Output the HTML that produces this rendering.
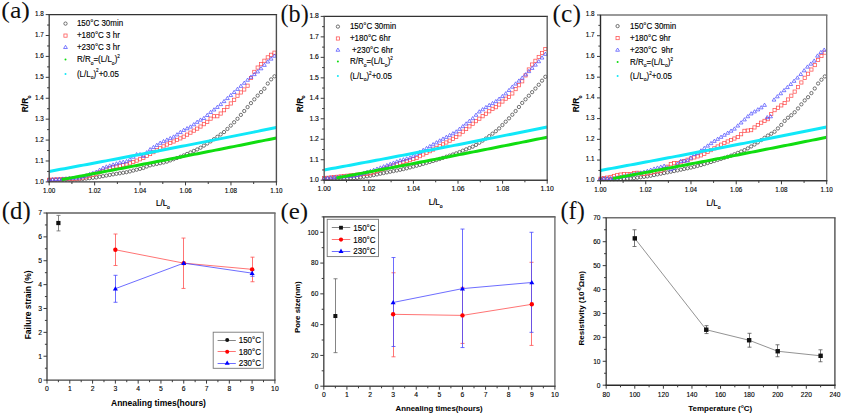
<!DOCTYPE html>
<html><head><meta charset="utf-8"><style>html,body{margin:0;padding:0;background:#fff;width:843px;height:415px;overflow:hidden}svg{display:block}</style></head>
<body><svg width="843" height="415" viewBox="0 0 843 415"><g><circle cx="49.2" cy="179.81" r="1.65" fill="none" stroke="#444444" stroke-width="0.75"/><circle cx="52.56" cy="179.81" r="1.65" fill="none" stroke="#444444" stroke-width="0.75"/><circle cx="55.93" cy="179.81" r="1.65" fill="none" stroke="#444444" stroke-width="0.75"/><circle cx="59.29" cy="179.81" r="1.65" fill="none" stroke="#444444" stroke-width="0.75"/><circle cx="62.65" cy="179.81" r="1.65" fill="none" stroke="#444444" stroke-width="0.75"/><circle cx="66.01" cy="179.75" r="1.65" fill="none" stroke="#444444" stroke-width="0.75"/><circle cx="69.38" cy="179.62" r="1.65" fill="none" stroke="#444444" stroke-width="0.75"/><circle cx="72.74" cy="179.49" r="1.65" fill="none" stroke="#444444" stroke-width="0.75"/><circle cx="76.1" cy="179.35" r="1.65" fill="none" stroke="#444444" stroke-width="0.75"/><circle cx="79.46" cy="179.22" r="1.65" fill="none" stroke="#444444" stroke-width="0.75"/><circle cx="82.83" cy="178.91" r="1.65" fill="none" stroke="#444444" stroke-width="0.75"/><circle cx="86.19" cy="178.56" r="1.65" fill="none" stroke="#444444" stroke-width="0.75"/><circle cx="89.55" cy="178.2" r="1.65" fill="none" stroke="#444444" stroke-width="0.75"/><circle cx="92.91" cy="177.84" r="1.65" fill="none" stroke="#444444" stroke-width="0.75"/><circle cx="96.28" cy="177.46" r="1.65" fill="none" stroke="#444444" stroke-width="0.75"/><circle cx="99.64" cy="176.83" r="1.65" fill="none" stroke="#444444" stroke-width="0.75"/><circle cx="103" cy="176.2" r="1.65" fill="none" stroke="#444444" stroke-width="0.75"/><circle cx="106.36" cy="175.57" r="1.65" fill="none" stroke="#444444" stroke-width="0.75"/><circle cx="109.73" cy="174.95" r="1.65" fill="none" stroke="#444444" stroke-width="0.75"/><circle cx="113.09" cy="174.36" r="1.65" fill="none" stroke="#444444" stroke-width="0.75"/><circle cx="116.45" cy="173.82" r="1.65" fill="none" stroke="#444444" stroke-width="0.75"/><circle cx="119.81" cy="173.28" r="1.65" fill="none" stroke="#444444" stroke-width="0.75"/><circle cx="123.18" cy="172.74" r="1.65" fill="none" stroke="#444444" stroke-width="0.75"/><circle cx="126.54" cy="172.2" r="1.65" fill="none" stroke="#444444" stroke-width="0.75"/><circle cx="129.9" cy="171.43" r="1.65" fill="none" stroke="#444444" stroke-width="0.75"/><circle cx="133.26" cy="170.57" r="1.65" fill="none" stroke="#444444" stroke-width="0.75"/><circle cx="136.63" cy="169.72" r="1.65" fill="none" stroke="#444444" stroke-width="0.75"/><circle cx="139.99" cy="168.87" r="1.65" fill="none" stroke="#444444" stroke-width="0.75"/><circle cx="143.35" cy="167.96" r="1.65" fill="none" stroke="#444444" stroke-width="0.75"/><circle cx="146.71" cy="166.53" r="1.65" fill="none" stroke="#444444" stroke-width="0.75"/><circle cx="150.08" cy="165.35" r="1.65" fill="none" stroke="#444444" stroke-width="0.75"/><circle cx="153.44" cy="164.64" r="1.65" fill="none" stroke="#444444" stroke-width="0.75"/><circle cx="156.8" cy="163.93" r="1.65" fill="none" stroke="#444444" stroke-width="0.75"/><circle cx="160.16" cy="163.21" r="1.65" fill="none" stroke="#444444" stroke-width="0.75"/><circle cx="163.53" cy="162.5" r="1.65" fill="none" stroke="#444444" stroke-width="0.75"/><circle cx="166.89" cy="161.62" r="1.65" fill="none" stroke="#444444" stroke-width="0.75"/><circle cx="170.25" cy="160.41" r="1.65" fill="none" stroke="#444444" stroke-width="0.75"/><circle cx="173.61" cy="159.2" r="1.65" fill="none" stroke="#444444" stroke-width="0.75"/><circle cx="176.98" cy="157.98" r="1.65" fill="none" stroke="#444444" stroke-width="0.75"/><circle cx="180.34" cy="156.77" r="1.65" fill="none" stroke="#444444" stroke-width="0.75"/><circle cx="183.7" cy="155.46" r="1.65" fill="none" stroke="#444444" stroke-width="0.75"/><circle cx="187.06" cy="153.95" r="1.65" fill="none" stroke="#444444" stroke-width="0.75"/><circle cx="190.43" cy="152.45" r="1.65" fill="none" stroke="#444444" stroke-width="0.75"/><circle cx="193.79" cy="150.94" r="1.65" fill="none" stroke="#444444" stroke-width="0.75"/><circle cx="197.15" cy="149.44" r="1.65" fill="none" stroke="#444444" stroke-width="0.75"/><circle cx="200.52" cy="147.73" r="1.65" fill="none" stroke="#444444" stroke-width="0.75"/><circle cx="203.88" cy="145.61" r="1.65" fill="none" stroke="#444444" stroke-width="0.75"/><circle cx="207.24" cy="143.5" r="1.65" fill="none" stroke="#444444" stroke-width="0.75"/><circle cx="210.6" cy="141.38" r="1.65" fill="none" stroke="#444444" stroke-width="0.75"/><circle cx="213.97" cy="139.19" r="1.65" fill="none" stroke="#444444" stroke-width="0.75"/><circle cx="217.33" cy="136.81" r="1.65" fill="none" stroke="#444444" stroke-width="0.75"/><circle cx="220.69" cy="134.43" r="1.65" fill="none" stroke="#444444" stroke-width="0.75"/><circle cx="224.05" cy="132.05" r="1.65" fill="none" stroke="#444444" stroke-width="0.75"/><circle cx="227.42" cy="128.93" r="1.65" fill="none" stroke="#444444" stroke-width="0.75"/><circle cx="230.78" cy="125.6" r="1.65" fill="none" stroke="#444444" stroke-width="0.75"/><circle cx="234.14" cy="122.27" r="1.65" fill="none" stroke="#444444" stroke-width="0.75"/><circle cx="237.5" cy="118.79" r="1.65" fill="none" stroke="#444444" stroke-width="0.75"/><circle cx="240.87" cy="114.9" r="1.65" fill="none" stroke="#444444" stroke-width="0.75"/><circle cx="244.23" cy="111.01" r="1.65" fill="none" stroke="#444444" stroke-width="0.75"/><circle cx="247.59" cy="107.09" r="1.65" fill="none" stroke="#444444" stroke-width="0.75"/><circle cx="250.95" cy="103.14" r="1.65" fill="none" stroke="#444444" stroke-width="0.75"/><circle cx="254.32" cy="99.35" r="1.65" fill="none" stroke="#444444" stroke-width="0.75"/><circle cx="257.68" cy="95.63" r="1.65" fill="none" stroke="#444444" stroke-width="0.75"/><circle cx="261.04" cy="92.11" r="1.65" fill="none" stroke="#444444" stroke-width="0.75"/><circle cx="264.4" cy="88.69" r="1.65" fill="none" stroke="#444444" stroke-width="0.75"/><circle cx="267.77" cy="83.54" r="1.65" fill="none" stroke="#444444" stroke-width="0.75"/><circle cx="271.13" cy="79.38" r="1.65" fill="none" stroke="#444444" stroke-width="0.75"/><circle cx="274.49" cy="76.3" r="1.65" fill="none" stroke="#444444" stroke-width="0.75"/><rect x="47.6" y="178.21" width="3.2" height="3.2" fill="none" stroke="#ff5050" stroke-width="0.75"/><rect x="50.96" y="178.05" width="3.2" height="3.2" fill="none" stroke="#ff5050" stroke-width="0.75"/><rect x="54.33" y="177.89" width="3.2" height="3.2" fill="none" stroke="#ff5050" stroke-width="0.75"/><rect x="57.69" y="177.73" width="3.2" height="3.2" fill="none" stroke="#ff5050" stroke-width="0.75"/><rect x="61.05" y="177.58" width="3.2" height="3.2" fill="none" stroke="#ff5050" stroke-width="0.75"/><rect x="64.41" y="177.42" width="3.2" height="3.2" fill="none" stroke="#ff5050" stroke-width="0.75"/><rect x="67.78" y="177.26" width="3.2" height="3.2" fill="none" stroke="#ff5050" stroke-width="0.75"/><rect x="71.14" y="177.1" width="3.2" height="3.2" fill="none" stroke="#ff5050" stroke-width="0.75"/><rect x="74.5" y="176.94" width="3.2" height="3.2" fill="none" stroke="#ff5050" stroke-width="0.75"/><rect x="77.86" y="176.79" width="3.2" height="3.2" fill="none" stroke="#ff5050" stroke-width="0.75"/><rect x="81.23" y="176.01" width="3.2" height="3.2" fill="none" stroke="#ff5050" stroke-width="0.75"/><rect x="84.59" y="175.02" width="3.2" height="3.2" fill="none" stroke="#ff5050" stroke-width="0.75"/><rect x="87.95" y="174.04" width="3.2" height="3.2" fill="none" stroke="#ff5050" stroke-width="0.75"/><rect x="91.31" y="173.05" width="3.2" height="3.2" fill="none" stroke="#ff5050" stroke-width="0.75"/><rect x="94.68" y="172.04" width="3.2" height="3.2" fill="none" stroke="#ff5050" stroke-width="0.75"/><rect x="98.04" y="170.69" width="3.2" height="3.2" fill="none" stroke="#ff5050" stroke-width="0.75"/><rect x="101.4" y="169.34" width="3.2" height="3.2" fill="none" stroke="#ff5050" stroke-width="0.75"/><rect x="104.76" y="168" width="3.2" height="3.2" fill="none" stroke="#ff5050" stroke-width="0.75"/><rect x="108.13" y="166.65" width="3.2" height="3.2" fill="none" stroke="#ff5050" stroke-width="0.75"/><rect x="111.49" y="165.59" width="3.2" height="3.2" fill="none" stroke="#ff5050" stroke-width="0.75"/><rect x="114.85" y="164.92" width="3.2" height="3.2" fill="none" stroke="#ff5050" stroke-width="0.75"/><rect x="118.21" y="164.24" width="3.2" height="3.2" fill="none" stroke="#ff5050" stroke-width="0.75"/><rect x="121.58" y="163.57" width="3.2" height="3.2" fill="none" stroke="#ff5050" stroke-width="0.75"/><rect x="124.94" y="162.9" width="3.2" height="3.2" fill="none" stroke="#ff5050" stroke-width="0.75"/><rect x="128.3" y="161.72" width="3.2" height="3.2" fill="none" stroke="#ff5050" stroke-width="0.75"/><rect x="131.66" y="160.37" width="3.2" height="3.2" fill="none" stroke="#ff5050" stroke-width="0.75"/><rect x="135.03" y="159.02" width="3.2" height="3.2" fill="none" stroke="#ff5050" stroke-width="0.75"/><rect x="138.39" y="157.68" width="3.2" height="3.2" fill="none" stroke="#ff5050" stroke-width="0.75"/><rect x="141.75" y="156.28" width="3.2" height="3.2" fill="none" stroke="#ff5050" stroke-width="0.75"/><rect x="145.11" y="154.37" width="3.2" height="3.2" fill="none" stroke="#ff5050" stroke-width="0.75"/><rect x="148.48" y="152.46" width="3.2" height="3.2" fill="none" stroke="#ff5050" stroke-width="0.75"/><rect x="151.84" y="150.54" width="3.2" height="3.2" fill="none" stroke="#ff5050" stroke-width="0.75"/><rect x="155.2" y="148.62" width="3.2" height="3.2" fill="none" stroke="#ff5050" stroke-width="0.75"/><rect x="158.56" y="146.69" width="3.2" height="3.2" fill="none" stroke="#ff5050" stroke-width="0.75"/><rect x="161.93" y="144.77" width="3.2" height="3.2" fill="none" stroke="#ff5050" stroke-width="0.75"/><rect x="165.29" y="142.97" width="3.2" height="3.2" fill="none" stroke="#ff5050" stroke-width="0.75"/><rect x="168.65" y="141.42" width="3.2" height="3.2" fill="none" stroke="#ff5050" stroke-width="0.75"/><rect x="172.01" y="139.88" width="3.2" height="3.2" fill="none" stroke="#ff5050" stroke-width="0.75"/><rect x="175.38" y="138.33" width="3.2" height="3.2" fill="none" stroke="#ff5050" stroke-width="0.75"/><rect x="178.74" y="136.78" width="3.2" height="3.2" fill="none" stroke="#ff5050" stroke-width="0.75"/><rect x="182.1" y="135.08" width="3.2" height="3.2" fill="none" stroke="#ff5050" stroke-width="0.75"/><rect x="185.46" y="133.07" width="3.2" height="3.2" fill="none" stroke="#ff5050" stroke-width="0.75"/><rect x="188.83" y="131.06" width="3.2" height="3.2" fill="none" stroke="#ff5050" stroke-width="0.75"/><rect x="192.19" y="129.06" width="3.2" height="3.2" fill="none" stroke="#ff5050" stroke-width="0.75"/><rect x="195.55" y="127.05" width="3.2" height="3.2" fill="none" stroke="#ff5050" stroke-width="0.75"/><rect x="198.92" y="124.93" width="3.2" height="3.2" fill="none" stroke="#ff5050" stroke-width="0.75"/><rect x="202.28" y="122.58" width="3.2" height="3.2" fill="none" stroke="#ff5050" stroke-width="0.75"/><rect x="205.64" y="120.24" width="3.2" height="3.2" fill="none" stroke="#ff5050" stroke-width="0.75"/><rect x="209" y="117.04" width="3.2" height="3.2" fill="none" stroke="#ff5050" stroke-width="0.75"/><rect x="212.37" y="114.63" width="3.2" height="3.2" fill="none" stroke="#ff5050" stroke-width="0.75"/><rect x="215.73" y="114.63" width="3.2" height="3.2" fill="none" stroke="#ff5050" stroke-width="0.75"/><rect x="219.09" y="111.94" width="3.2" height="3.2" fill="none" stroke="#ff5050" stroke-width="0.75"/><rect x="222.45" y="108.61" width="3.2" height="3.2" fill="none" stroke="#ff5050" stroke-width="0.75"/><rect x="225.82" y="105.38" width="3.2" height="3.2" fill="none" stroke="#ff5050" stroke-width="0.75"/><rect x="229.18" y="101.86" width="3.2" height="3.2" fill="none" stroke="#ff5050" stroke-width="0.75"/><rect x="232.54" y="98.19" width="3.2" height="3.2" fill="none" stroke="#ff5050" stroke-width="0.75"/><rect x="235.9" y="94.11" width="3.2" height="3.2" fill="none" stroke="#ff5050" stroke-width="0.75"/><rect x="239.27" y="90.85" width="3.2" height="3.2" fill="none" stroke="#ff5050" stroke-width="0.75"/><rect x="242.63" y="87.88" width="3.2" height="3.2" fill="none" stroke="#ff5050" stroke-width="0.75"/><rect x="245.99" y="84.08" width="3.2" height="3.2" fill="none" stroke="#ff5050" stroke-width="0.75"/><rect x="249.35" y="76.43" width="3.2" height="3.2" fill="none" stroke="#ff5050" stroke-width="0.75"/><rect x="252.72" y="70.29" width="3.2" height="3.2" fill="none" stroke="#ff5050" stroke-width="0.75"/><rect x="256.08" y="65.96" width="3.2" height="3.2" fill="none" stroke="#ff5050" stroke-width="0.75"/><rect x="259.44" y="62.54" width="3.2" height="3.2" fill="none" stroke="#ff5050" stroke-width="0.75"/><rect x="262.8" y="59.13" width="3.2" height="3.2" fill="none" stroke="#ff5050" stroke-width="0.75"/><rect x="266.17" y="55.76" width="3.2" height="3.2" fill="none" stroke="#ff5050" stroke-width="0.75"/><rect x="269.53" y="53.19" width="3.2" height="3.2" fill="none" stroke="#ff5050" stroke-width="0.75"/><rect x="272.89" y="51.1" width="3.2" height="3.2" fill="none" stroke="#ff5050" stroke-width="0.75"/><path d="M49.2 177.91L51.1 181.14L47.3 181.14Z" fill="none" stroke="#5050ff" stroke-width="0.75"/><path d="M52.56 177.66L54.46 180.89L50.66 180.89Z" fill="none" stroke="#5050ff" stroke-width="0.75"/><path d="M55.93 177.41L57.83 180.64L54.03 180.64Z" fill="none" stroke="#5050ff" stroke-width="0.75"/><path d="M59.29 177.16L61.19 180.39L57.39 180.39Z" fill="none" stroke="#5050ff" stroke-width="0.75"/><path d="M62.65 176.91L64.55 180.14L60.75 180.14Z" fill="none" stroke="#5050ff" stroke-width="0.75"/><path d="M66.01 176.67L67.91 179.9L64.11 179.9Z" fill="none" stroke="#5050ff" stroke-width="0.75"/><path d="M69.38 176.42L71.28 179.65L67.48 179.65Z" fill="none" stroke="#5050ff" stroke-width="0.75"/><path d="M72.74 176.17L74.64 179.4L70.84 179.4Z" fill="none" stroke="#5050ff" stroke-width="0.75"/><path d="M76.1 175.92L78 179.15L74.2 179.15Z" fill="none" stroke="#5050ff" stroke-width="0.75"/><path d="M79.46 175.67L81.36 178.9L77.56 178.9Z" fill="none" stroke="#5050ff" stroke-width="0.75"/><path d="M82.83 174.74L84.73 177.97L80.93 177.97Z" fill="none" stroke="#5050ff" stroke-width="0.75"/><path d="M86.19 173.58L88.09 176.81L84.29 176.81Z" fill="none" stroke="#5050ff" stroke-width="0.75"/><path d="M89.55 172.41L91.45 175.64L87.65 175.64Z" fill="none" stroke="#5050ff" stroke-width="0.75"/><path d="M92.91 171.24L94.81 174.47L91.01 174.47Z" fill="none" stroke="#5050ff" stroke-width="0.75"/><path d="M96.28 170.01L98.18 173.24L94.38 173.24Z" fill="none" stroke="#5050ff" stroke-width="0.75"/><path d="M99.64 168.01L101.54 171.24L97.74 171.24Z" fill="none" stroke="#5050ff" stroke-width="0.75"/><path d="M103 166L104.9 169.23L101.1 169.23Z" fill="none" stroke="#5050ff" stroke-width="0.75"/><path d="M106.36 164.81L108.26 168.04L104.46 168.04Z" fill="none" stroke="#5050ff" stroke-width="0.75"/><path d="M109.73 163.84L111.63 167.07L107.83 167.07Z" fill="none" stroke="#5050ff" stroke-width="0.75"/><path d="M113.09 162.81L114.99 166.04L111.19 166.04Z" fill="none" stroke="#5050ff" stroke-width="0.75"/><path d="M116.45 161.72L118.35 164.95L114.55 164.95Z" fill="none" stroke="#5050ff" stroke-width="0.75"/><path d="M119.81 160.69L121.71 163.92L117.91 163.92Z" fill="none" stroke="#5050ff" stroke-width="0.75"/><path d="M123.18 160.07L125.08 163.3L121.28 163.3Z" fill="none" stroke="#5050ff" stroke-width="0.75"/><path d="M126.54 159.45L128.44 162.68L124.64 162.68Z" fill="none" stroke="#5050ff" stroke-width="0.75"/><path d="M129.9 157.44L131.8 160.67L128 160.67Z" fill="none" stroke="#5050ff" stroke-width="0.75"/><path d="M133.26 154.99L135.16 158.22L131.36 158.22Z" fill="none" stroke="#5050ff" stroke-width="0.75"/><path d="M136.63 152.54L138.53 155.77L134.73 155.77Z" fill="none" stroke="#5050ff" stroke-width="0.75"/><path d="M139.99 152.49L141.89 155.72L138.09 155.72Z" fill="none" stroke="#5050ff" stroke-width="0.75"/><path d="M143.35 154.15L145.25 157.38L141.45 157.38Z" fill="none" stroke="#5050ff" stroke-width="0.75"/><path d="M146.71 150.58L148.61 153.81L144.81 153.81Z" fill="none" stroke="#5050ff" stroke-width="0.75"/><path d="M150.08 147.49L151.98 150.72L148.18 150.72Z" fill="none" stroke="#5050ff" stroke-width="0.75"/><path d="M153.44 145.35L155.34 148.58L151.54 148.58Z" fill="none" stroke="#5050ff" stroke-width="0.75"/><path d="M156.8 143.2L158.7 146.43L154.9 146.43Z" fill="none" stroke="#5050ff" stroke-width="0.75"/><path d="M160.16 141.06L162.06 144.29L158.26 144.29Z" fill="none" stroke="#5050ff" stroke-width="0.75"/><path d="M163.53 139.43L165.43 142.66L161.63 142.66Z" fill="none" stroke="#5050ff" stroke-width="0.75"/><path d="M166.89 137.91L168.79 141.14L164.99 141.14Z" fill="none" stroke="#5050ff" stroke-width="0.75"/><path d="M170.25 136.39L172.15 139.62L168.35 139.62Z" fill="none" stroke="#5050ff" stroke-width="0.75"/><path d="M173.61 134.87L175.51 138.1L171.71 138.1Z" fill="none" stroke="#5050ff" stroke-width="0.75"/><path d="M176.98 132.66L178.88 135.89L175.08 135.89Z" fill="none" stroke="#5050ff" stroke-width="0.75"/><path d="M180.34 130.32L182.24 133.55L178.44 133.55Z" fill="none" stroke="#5050ff" stroke-width="0.75"/><path d="M183.7 128.2L185.6 131.43L181.8 131.43Z" fill="none" stroke="#5050ff" stroke-width="0.75"/><path d="M187.06 126.53L188.96 129.76L185.16 129.76Z" fill="none" stroke="#5050ff" stroke-width="0.75"/><path d="M190.43 124.85L192.33 128.08L188.53 128.08Z" fill="none" stroke="#5050ff" stroke-width="0.75"/><path d="M193.79 122.55L195.69 125.78L191.89 125.78Z" fill="none" stroke="#5050ff" stroke-width="0.75"/><path d="M197.15 120.12L199.05 123.35L195.25 123.35Z" fill="none" stroke="#5050ff" stroke-width="0.75"/><path d="M200.52 117.95L202.42 121.18L198.62 121.18Z" fill="none" stroke="#5050ff" stroke-width="0.75"/><path d="M203.88 116.26L205.78 119.49L201.98 119.49Z" fill="none" stroke="#5050ff" stroke-width="0.75"/><path d="M207.24 113.26L209.14 116.49L205.34 116.49Z" fill="none" stroke="#5050ff" stroke-width="0.75"/><path d="M210.6 110.25L212.5 113.48L208.7 113.48Z" fill="none" stroke="#5050ff" stroke-width="0.75"/><path d="M213.97 107.78L215.87 111.01L212.07 111.01Z" fill="none" stroke="#5050ff" stroke-width="0.75"/><path d="M217.33 105.21L219.23 108.44L215.43 108.44Z" fill="none" stroke="#5050ff" stroke-width="0.75"/><path d="M220.69 102.38L222.59 105.61L218.79 105.61Z" fill="none" stroke="#5050ff" stroke-width="0.75"/><path d="M224.05 99.4L225.95 102.63L222.15 102.63Z" fill="none" stroke="#5050ff" stroke-width="0.75"/><path d="M227.42 96.37L229.32 99.6L225.52 99.6Z" fill="none" stroke="#5050ff" stroke-width="0.75"/><path d="M230.78 93.33L232.68 96.56L228.88 96.56Z" fill="none" stroke="#5050ff" stroke-width="0.75"/><path d="M234.14 90.29L236.04 93.52L232.24 93.52Z" fill="none" stroke="#5050ff" stroke-width="0.75"/><path d="M237.5 87.19L239.4 90.42L235.6 90.42Z" fill="none" stroke="#5050ff" stroke-width="0.75"/><path d="M240.87 84.1L242.77 87.33L238.97 87.33Z" fill="none" stroke="#5050ff" stroke-width="0.75"/><path d="M244.23 81.05L246.13 84.28L242.33 84.28Z" fill="none" stroke="#5050ff" stroke-width="0.75"/><path d="M247.59 78.04L249.49 81.27L245.69 81.27Z" fill="none" stroke="#5050ff" stroke-width="0.75"/><path d="M250.95 75.08L252.85 78.31L249.05 78.31Z" fill="none" stroke="#5050ff" stroke-width="0.75"/><path d="M254.32 72.4L256.22 75.63L252.42 75.63Z" fill="none" stroke="#5050ff" stroke-width="0.75"/><path d="M257.68 69.72L259.58 72.95L255.78 72.95Z" fill="none" stroke="#5050ff" stroke-width="0.75"/><path d="M261.04 66.57L262.94 69.8L259.14 69.8Z" fill="none" stroke="#5050ff" stroke-width="0.75"/><path d="M264.4 63.14L266.3 66.37L262.5 66.37Z" fill="none" stroke="#5050ff" stroke-width="0.75"/><path d="M267.77 59.78L269.67 63.01L265.87 63.01Z" fill="none" stroke="#5050ff" stroke-width="0.75"/><path d="M271.13 56.89L273.03 60.12L269.23 60.12Z" fill="none" stroke="#5050ff" stroke-width="0.75"/><path d="M274.49 54.01L276.39 57.24L272.59 57.24Z" fill="none" stroke="#5050ff" stroke-width="0.75"/></g>
<polyline points="61.7,179.59 65.27,178.93 68.85,178.27 72.43,177.6 76.01,176.94 79.59,176.27 83.17,175.6 86.74,174.93 90.32,174.26 93.9,173.59 97.48,172.92 101.06,172.24 104.64,171.57 108.22,170.89 111.79,170.22 115.37,169.54 118.95,168.86 122.53,168.18 126.11,167.5 129.69,166.82 133.26,166.14 136.84,165.45 140.42,164.77 144,164.08 147.58,163.4 151.16,162.71 154.73,162.02 158.31,161.33 161.89,160.64 165.47,159.95 169.05,159.26 172.63,158.56 176.2,157.87 179.78,157.17 183.36,156.47 186.94,155.77 190.52,155.08 194.1,154.38 197.68,153.67 201.25,152.97 204.83,152.27 208.41,151.56 211.99,150.86 215.57,150.15 219.15,149.44 222.72,148.74 226.3,148.03 229.88,147.32 233.46,146.6 237.04,145.89 240.62,145.18 244.19,144.46 247.77,143.75 251.35,143.03 254.93,142.31 258.51,141.59 262.09,140.87 265.66,140.15 269.24,139.43 272.82,138.71 276.4,137.98" fill="none" stroke="#10dd10" stroke-width="3.0"/>
<polyline points="49.2,171.44 52.99,170.75 56.77,170.05 60.56,169.35 64.35,168.65 68.13,167.94 71.92,167.24 75.71,166.54 79.49,165.83 83.28,165.12 87.07,164.41 90.85,163.71 94.64,163 98.43,162.28 102.21,161.57 106,160.86 109.79,160.14 113.57,159.43 117.36,158.71 121.15,157.99 124.93,157.27 128.72,156.55 132.51,155.83 136.29,155.1 140.08,154.38 143.87,153.65 147.65,152.93 151.44,152.2 155.23,151.47 159.01,150.74 162.8,150.01 166.59,149.28 170.37,148.54 174.16,147.81 177.95,147.07 181.73,146.33 185.52,145.6 189.31,144.86 193.09,144.12 196.88,143.37 200.67,142.63 204.45,141.89 208.24,141.14 212.03,140.4 215.81,139.65 219.6,138.9 223.39,138.15 227.17,137.4 230.96,136.65 234.75,135.89 238.53,135.14 242.32,134.38 246.11,133.62 249.89,132.87 253.68,132.11 257.47,131.35 261.25,130.59 265.04,129.82 268.83,129.06 272.61,128.29 276.4,127.53" fill="none" stroke="#10e8f8" stroke-width="3"/>
<path d="M48.5 14.6H277.1" stroke="#333" stroke-width="1.4"/>
<path d="M276.4 14.6V181.9" stroke="#505050" stroke-width="1.4"/>
<path d="M49.2 14.6V182.6" stroke="#484848" stroke-width="1.4"/>
<path d="M48.5 181.9H277.1" stroke="#3a3a3a" stroke-width="1.4"/>
<path d="M49.2 181.9V185.4M94.64 181.9V185.4M140.08 181.9V185.4M185.52 181.9V185.4M230.96 181.9V185.4M276.4 181.9V185.4M71.92 181.9V184M117.36 181.9V184M162.8 181.9V184M208.24 181.9V184M253.68 181.9V184" stroke="#3a3a3a" stroke-width="1.0" fill="none"/>
<path d="M49.2 181.9H45.7M49.2 160.99H45.7M49.2 140.08H45.7M49.2 119.16H45.7M49.2 98.25H45.7M49.2 77.34H45.7M49.2 56.42H45.7M49.2 35.51H45.7M49.2 14.6H45.7M49.2 171.44H47.1M49.2 150.53H47.1M49.2 129.62H47.1M49.2 108.71H47.1M49.2 87.79H47.1M49.2 66.88H47.1M49.2 45.97H47.1M49.2 25.06H47.1" stroke="#3a3a3a" stroke-width="1.0" fill="none"/>
<text x="49.2" y="192.5" text-anchor="middle" fill="#000" stroke="#000" stroke-width="0.12" style="font-family:'Liberation Sans', sans-serif;font-size:6.3px;white-space:pre;">1.00</text>
<text x="94.64" y="192.5" text-anchor="middle" fill="#000" stroke="#000" stroke-width="0.12" style="font-family:'Liberation Sans', sans-serif;font-size:6.3px;white-space:pre;">1.02</text>
<text x="140.08" y="192.5" text-anchor="middle" fill="#000" stroke="#000" stroke-width="0.12" style="font-family:'Liberation Sans', sans-serif;font-size:6.3px;white-space:pre;">1.04</text>
<text x="185.52" y="192.5" text-anchor="middle" fill="#000" stroke="#000" stroke-width="0.12" style="font-family:'Liberation Sans', sans-serif;font-size:6.3px;white-space:pre;">1.06</text>
<text x="230.96" y="192.5" text-anchor="middle" fill="#000" stroke="#000" stroke-width="0.12" style="font-family:'Liberation Sans', sans-serif;font-size:6.3px;white-space:pre;">1.08</text>
<text x="276.4" y="192.5" text-anchor="middle" fill="#000" stroke="#000" stroke-width="0.12" style="font-family:'Liberation Sans', sans-serif;font-size:6.3px;white-space:pre;">1.10</text>
<text x="43.8" y="183.7" text-anchor="end" fill="#000" stroke="#000" stroke-width="0.12" style="font-family:'Liberation Sans', sans-serif;font-size:6.3px;white-space:pre;">1.0</text>
<text x="43.8" y="162.79" text-anchor="end" fill="#000" stroke="#000" stroke-width="0.12" style="font-family:'Liberation Sans', sans-serif;font-size:6.3px;white-space:pre;">1.1</text>
<text x="43.8" y="141.88" text-anchor="end" fill="#000" stroke="#000" stroke-width="0.12" style="font-family:'Liberation Sans', sans-serif;font-size:6.3px;white-space:pre;">1.2</text>
<text x="43.8" y="120.96" text-anchor="end" fill="#000" stroke="#000" stroke-width="0.12" style="font-family:'Liberation Sans', sans-serif;font-size:6.3px;white-space:pre;">1.3</text>
<text x="43.8" y="100.05" text-anchor="end" fill="#000" stroke="#000" stroke-width="0.12" style="font-family:'Liberation Sans', sans-serif;font-size:6.3px;white-space:pre;">1.4</text>
<text x="43.8" y="79.14" text-anchor="end" fill="#000" stroke="#000" stroke-width="0.12" style="font-family:'Liberation Sans', sans-serif;font-size:6.3px;white-space:pre;">1.5</text>
<text x="43.8" y="58.22" text-anchor="end" fill="#000" stroke="#000" stroke-width="0.12" style="font-family:'Liberation Sans', sans-serif;font-size:6.3px;white-space:pre;">1.6</text>
<text x="43.8" y="37.31" text-anchor="end" fill="#000" stroke="#000" stroke-width="0.12" style="font-family:'Liberation Sans', sans-serif;font-size:6.3px;white-space:pre;">1.7</text>
<text x="43.8" y="16.4" text-anchor="end" fill="#000" stroke="#000" stroke-width="0.12" style="font-family:'Liberation Sans', sans-serif;font-size:6.3px;white-space:pre;">1.8</text>
<text transform="translate(28 112.2) rotate(-90)" fill="#000" stroke="#000" stroke-width="0.1" style="font-family:'Liberation Sans', sans-serif;font-size:8.4px;font-weight:bold">R/R<tspan dx="-0.8" dy="2.6" style="font-size:5px">o</tspan></text>
<text x="0" y="0" transform="translate(156 206.1) scale(1 1.18)" fill="#000" stroke="#000" stroke-width="0.2" style="font-family:'Liberation Sans', sans-serif;font-size:8px">L/L<tspan dy="2.4" style="font-size:5px">o</tspan></text>
<circle cx="65.5" cy="23.6" r="1.65" fill="none" stroke="#444444" stroke-width="0.75"/>
<text x="0" y="0" transform="translate(76.9 26.2) scale(1 1.1)" text-anchor="start" fill="#000" stroke="#000" stroke-width="0.12" style="font-family:'Liberation Sans', sans-serif;font-size:8px;white-space:pre;">150°C 30min</text>
<rect x="63.9" y="34" width="3.2" height="3.2" fill="none" stroke="#ff5050" stroke-width="0.75"/>
<text x="0" y="0" transform="translate(76.9 38.2) scale(1 1.1)" text-anchor="start" fill="#000" stroke="#000" stroke-width="0.12" style="font-family:'Liberation Sans', sans-serif;font-size:8px;white-space:pre;">+180°C 3 hr</text>
<path d="M65.5 45.3L67.4 48.53L63.6 48.53Z" fill="none" stroke="#5050ff" stroke-width="0.75"/>
<text x="0" y="0" transform="translate(76.9 49.8) scale(1 1.1)" text-anchor="start" fill="#000" stroke="#000" stroke-width="0.12" style="font-family:'Liberation Sans', sans-serif;font-size:8px;white-space:pre;">+230°C 3 hr</text>
<circle cx="65.5" cy="59.5" r="1" fill="#10dd10"/>
<text x="0" y="0" transform="translate(76.9 62.1) scale(1 1.1)" text-anchor="start" fill="#000" stroke="#000" stroke-width="0.12" style="font-family:'Liberation Sans', sans-serif;font-size:8px;white-space:pre;">R/R<tspan dy="2.3" font-size="5">o</tspan><tspan dy="-2.3">=(L/L</tspan><tspan dy="2.3" font-size="5">o</tspan><tspan dy="-2.3">)</tspan><tspan dy="-3.8" font-size="4.6">2</tspan></text>
<circle cx="65.5" cy="73.9" r="1" fill="#10e8f8"/>
<text x="0" y="0" transform="translate(76.9 76.5) scale(1 1.1)" text-anchor="start" fill="#000" stroke="#000" stroke-width="0.12" style="font-family:'Liberation Sans', sans-serif;font-size:8px;white-space:pre;">(L/L<tspan dy="2.3" font-size="5">o</tspan><tspan dy="-2.3">)</tspan><tspan dy="-3.8" font-size="4.6">2</tspan><tspan dy="3.8">+0.05</tspan></text>
<g><circle cx="324.2" cy="178.56" r="1.65" fill="none" stroke="#444444" stroke-width="0.75"/><circle cx="327.5" cy="178.56" r="1.65" fill="none" stroke="#444444" stroke-width="0.75"/><circle cx="330.8" cy="178.56" r="1.65" fill="none" stroke="#444444" stroke-width="0.75"/><circle cx="334.1" cy="178.56" r="1.65" fill="none" stroke="#444444" stroke-width="0.75"/><circle cx="337.4" cy="178.56" r="1.65" fill="none" stroke="#444444" stroke-width="0.75"/><circle cx="340.7" cy="178.54" r="1.65" fill="none" stroke="#444444" stroke-width="0.75"/><circle cx="344" cy="178.45" r="1.65" fill="none" stroke="#444444" stroke-width="0.75"/><circle cx="347.3" cy="178.36" r="1.65" fill="none" stroke="#444444" stroke-width="0.75"/><circle cx="350.6" cy="178.27" r="1.65" fill="none" stroke="#444444" stroke-width="0.75"/><circle cx="353.9" cy="178.19" r="1.65" fill="none" stroke="#444444" stroke-width="0.75"/><circle cx="357.2" cy="177.84" r="1.65" fill="none" stroke="#444444" stroke-width="0.75"/><circle cx="360.5" cy="177.33" r="1.65" fill="none" stroke="#444444" stroke-width="0.75"/><circle cx="363.8" cy="176.82" r="1.65" fill="none" stroke="#444444" stroke-width="0.75"/><circle cx="367.11" cy="176.3" r="1.65" fill="none" stroke="#444444" stroke-width="0.75"/><circle cx="370.41" cy="175.79" r="1.65" fill="none" stroke="#444444" stroke-width="0.75"/><circle cx="373.71" cy="175.13" r="1.65" fill="none" stroke="#444444" stroke-width="0.75"/><circle cx="377.01" cy="174.44" r="1.65" fill="none" stroke="#444444" stroke-width="0.75"/><circle cx="380.31" cy="173.75" r="1.65" fill="none" stroke="#444444" stroke-width="0.75"/><circle cx="383.61" cy="173.06" r="1.65" fill="none" stroke="#444444" stroke-width="0.75"/><circle cx="386.91" cy="172.37" r="1.65" fill="none" stroke="#444444" stroke-width="0.75"/><circle cx="390.21" cy="171.73" r="1.65" fill="none" stroke="#444444" stroke-width="0.75"/><circle cx="393.51" cy="171.09" r="1.65" fill="none" stroke="#444444" stroke-width="0.75"/><circle cx="396.81" cy="170.45" r="1.65" fill="none" stroke="#444444" stroke-width="0.75"/><circle cx="400.11" cy="169.81" r="1.65" fill="none" stroke="#444444" stroke-width="0.75"/><circle cx="403.41" cy="169.11" r="1.65" fill="none" stroke="#444444" stroke-width="0.75"/><circle cx="406.71" cy="168.28" r="1.65" fill="none" stroke="#444444" stroke-width="0.75"/><circle cx="410.01" cy="167.44" r="1.65" fill="none" stroke="#444444" stroke-width="0.75"/><circle cx="413.31" cy="166.61" r="1.65" fill="none" stroke="#444444" stroke-width="0.75"/><circle cx="416.61" cy="165.77" r="1.65" fill="none" stroke="#444444" stroke-width="0.75"/><circle cx="419.91" cy="164.86" r="1.65" fill="none" stroke="#444444" stroke-width="0.75"/><circle cx="423.21" cy="163.89" r="1.65" fill="none" stroke="#444444" stroke-width="0.75"/><circle cx="426.51" cy="162.93" r="1.65" fill="none" stroke="#444444" stroke-width="0.75"/><circle cx="429.81" cy="161.96" r="1.65" fill="none" stroke="#444444" stroke-width="0.75"/><circle cx="433.11" cy="160.99" r="1.65" fill="none" stroke="#444444" stroke-width="0.75"/><circle cx="436.41" cy="160.03" r="1.65" fill="none" stroke="#444444" stroke-width="0.75"/><circle cx="439.71" cy="158.99" r="1.65" fill="none" stroke="#444444" stroke-width="0.75"/><circle cx="443.01" cy="157.87" r="1.65" fill="none" stroke="#444444" stroke-width="0.75"/><circle cx="446.31" cy="156.74" r="1.65" fill="none" stroke="#444444" stroke-width="0.75"/><circle cx="449.62" cy="155.62" r="1.65" fill="none" stroke="#444444" stroke-width="0.75"/><circle cx="452.92" cy="154.5" r="1.65" fill="none" stroke="#444444" stroke-width="0.75"/><circle cx="456.22" cy="153.38" r="1.65" fill="none" stroke="#444444" stroke-width="0.75"/><circle cx="459.52" cy="152.03" r="1.65" fill="none" stroke="#444444" stroke-width="0.75"/><circle cx="462.82" cy="150.68" r="1.65" fill="none" stroke="#444444" stroke-width="0.75"/><circle cx="466.12" cy="149.34" r="1.65" fill="none" stroke="#444444" stroke-width="0.75"/><circle cx="469.42" cy="147.99" r="1.65" fill="none" stroke="#444444" stroke-width="0.75"/><circle cx="472.72" cy="146.64" r="1.65" fill="none" stroke="#444444" stroke-width="0.75"/><circle cx="476.02" cy="144.89" r="1.65" fill="none" stroke="#444444" stroke-width="0.75"/><circle cx="479.32" cy="142.76" r="1.65" fill="none" stroke="#444444" stroke-width="0.75"/><circle cx="482.62" cy="140.63" r="1.65" fill="none" stroke="#444444" stroke-width="0.75"/><circle cx="485.92" cy="138.51" r="1.65" fill="none" stroke="#444444" stroke-width="0.75"/><circle cx="489.22" cy="136.15" r="1.65" fill="none" stroke="#444444" stroke-width="0.75"/><circle cx="492.52" cy="133.69" r="1.65" fill="none" stroke="#444444" stroke-width="0.75"/><circle cx="495.82" cy="131.23" r="1.65" fill="none" stroke="#444444" stroke-width="0.75"/><circle cx="499.12" cy="128.39" r="1.65" fill="none" stroke="#444444" stroke-width="0.75"/><circle cx="502.42" cy="125.05" r="1.65" fill="none" stroke="#444444" stroke-width="0.75"/><circle cx="505.72" cy="121.71" r="1.65" fill="none" stroke="#444444" stroke-width="0.75"/><circle cx="509.02" cy="118.33" r="1.65" fill="none" stroke="#444444" stroke-width="0.75"/><circle cx="512.32" cy="114.7" r="1.65" fill="none" stroke="#444444" stroke-width="0.75"/><circle cx="515.62" cy="111.06" r="1.65" fill="none" stroke="#444444" stroke-width="0.75"/><circle cx="518.92" cy="106.99" r="1.65" fill="none" stroke="#444444" stroke-width="0.75"/><circle cx="522.22" cy="102.91" r="1.65" fill="none" stroke="#444444" stroke-width="0.75"/><circle cx="525.52" cy="99.32" r="1.65" fill="none" stroke="#444444" stroke-width="0.75"/><circle cx="528.82" cy="95.74" r="1.65" fill="none" stroke="#444444" stroke-width="0.75"/><circle cx="532.13" cy="92.15" r="1.65" fill="none" stroke="#444444" stroke-width="0.75"/><circle cx="535.43" cy="88.56" r="1.65" fill="none" stroke="#444444" stroke-width="0.75"/><circle cx="538.73" cy="84.76" r="1.65" fill="none" stroke="#444444" stroke-width="0.75"/><circle cx="542.03" cy="80.66" r="1.65" fill="none" stroke="#444444" stroke-width="0.75"/><circle cx="545.33" cy="76.81" r="1.65" fill="none" stroke="#444444" stroke-width="0.75"/><rect x="322.6" y="176.55" width="3.2" height="3.2" fill="none" stroke="#ff5050" stroke-width="0.75"/><rect x="325.9" y="176.21" width="3.2" height="3.2" fill="none" stroke="#ff5050" stroke-width="0.75"/><rect x="329.2" y="175.86" width="3.2" height="3.2" fill="none" stroke="#ff5050" stroke-width="0.75"/><rect x="332.5" y="175.51" width="3.2" height="3.2" fill="none" stroke="#ff5050" stroke-width="0.75"/><rect x="335.8" y="175.17" width="3.2" height="3.2" fill="none" stroke="#ff5050" stroke-width="0.75"/><rect x="339.1" y="174.82" width="3.2" height="3.2" fill="none" stroke="#ff5050" stroke-width="0.75"/><rect x="342.4" y="174.47" width="3.2" height="3.2" fill="none" stroke="#ff5050" stroke-width="0.75"/><rect x="345.7" y="174.13" width="3.2" height="3.2" fill="none" stroke="#ff5050" stroke-width="0.75"/><rect x="349" y="173.78" width="3.2" height="3.2" fill="none" stroke="#ff5050" stroke-width="0.75"/><rect x="352.3" y="173.44" width="3.2" height="3.2" fill="none" stroke="#ff5050" stroke-width="0.75"/><rect x="355.6" y="173.09" width="3.2" height="3.2" fill="none" stroke="#ff5050" stroke-width="0.75"/><rect x="358.9" y="172.74" width="3.2" height="3.2" fill="none" stroke="#ff5050" stroke-width="0.75"/><rect x="362.2" y="172.4" width="3.2" height="3.2" fill="none" stroke="#ff5050" stroke-width="0.75"/><rect x="365.51" y="172.05" width="3.2" height="3.2" fill="none" stroke="#ff5050" stroke-width="0.75"/><rect x="368.81" y="171.7" width="3.2" height="3.2" fill="none" stroke="#ff5050" stroke-width="0.75"/><rect x="372.11" y="170.69" width="3.2" height="3.2" fill="none" stroke="#ff5050" stroke-width="0.75"/><rect x="375.41" y="169.52" width="3.2" height="3.2" fill="none" stroke="#ff5050" stroke-width="0.75"/><rect x="378.71" y="168.35" width="3.2" height="3.2" fill="none" stroke="#ff5050" stroke-width="0.75"/><rect x="382.01" y="167.18" width="3.2" height="3.2" fill="none" stroke="#ff5050" stroke-width="0.75"/><rect x="385.31" y="166.02" width="3.2" height="3.2" fill="none" stroke="#ff5050" stroke-width="0.75"/><rect x="388.61" y="164.91" width="3.2" height="3.2" fill="none" stroke="#ff5050" stroke-width="0.75"/><rect x="391.91" y="163.8" width="3.2" height="3.2" fill="none" stroke="#ff5050" stroke-width="0.75"/><rect x="395.21" y="162.69" width="3.2" height="3.2" fill="none" stroke="#ff5050" stroke-width="0.75"/><rect x="398.51" y="161.58" width="3.2" height="3.2" fill="none" stroke="#ff5050" stroke-width="0.75"/><rect x="401.81" y="160.5" width="3.2" height="3.2" fill="none" stroke="#ff5050" stroke-width="0.75"/><rect x="405.11" y="159.49" width="3.2" height="3.2" fill="none" stroke="#ff5050" stroke-width="0.75"/><rect x="408.41" y="158.48" width="3.2" height="3.2" fill="none" stroke="#ff5050" stroke-width="0.75"/><rect x="411.71" y="157.47" width="3.2" height="3.2" fill="none" stroke="#ff5050" stroke-width="0.75"/><rect x="415.01" y="156.46" width="3.2" height="3.2" fill="none" stroke="#ff5050" stroke-width="0.75"/><rect x="418.31" y="154.57" width="3.2" height="3.2" fill="none" stroke="#ff5050" stroke-width="0.75"/><rect x="421.61" y="152.88" width="3.2" height="3.2" fill="none" stroke="#ff5050" stroke-width="0.75"/><rect x="424.91" y="151.24" width="3.2" height="3.2" fill="none" stroke="#ff5050" stroke-width="0.75"/><rect x="428.21" y="149.59" width="3.2" height="3.2" fill="none" stroke="#ff5050" stroke-width="0.75"/><rect x="431.51" y="147.94" width="3.2" height="3.2" fill="none" stroke="#ff5050" stroke-width="0.75"/><rect x="434.81" y="146.3" width="3.2" height="3.2" fill="none" stroke="#ff5050" stroke-width="0.75"/><rect x="438.11" y="144.56" width="3.2" height="3.2" fill="none" stroke="#ff5050" stroke-width="0.75"/><rect x="441.41" y="142.73" width="3.2" height="3.2" fill="none" stroke="#ff5050" stroke-width="0.75"/><rect x="444.71" y="140.9" width="3.2" height="3.2" fill="none" stroke="#ff5050" stroke-width="0.75"/><rect x="448.02" y="139.06" width="3.2" height="3.2" fill="none" stroke="#ff5050" stroke-width="0.75"/><rect x="451.32" y="137.23" width="3.2" height="3.2" fill="none" stroke="#ff5050" stroke-width="0.75"/><rect x="454.62" y="135.4" width="3.2" height="3.2" fill="none" stroke="#ff5050" stroke-width="0.75"/><rect x="457.92" y="132.74" width="3.2" height="3.2" fill="none" stroke="#ff5050" stroke-width="0.75"/><rect x="461.22" y="130.09" width="3.2" height="3.2" fill="none" stroke="#ff5050" stroke-width="0.75"/><rect x="464.52" y="127.43" width="3.2" height="3.2" fill="none" stroke="#ff5050" stroke-width="0.75"/><rect x="467.82" y="124.77" width="3.2" height="3.2" fill="none" stroke="#ff5050" stroke-width="0.75"/><rect x="471.12" y="122.12" width="3.2" height="3.2" fill="none" stroke="#ff5050" stroke-width="0.75"/><rect x="474.42" y="119.56" width="3.2" height="3.2" fill="none" stroke="#ff5050" stroke-width="0.75"/><rect x="477.72" y="117.09" width="3.2" height="3.2" fill="none" stroke="#ff5050" stroke-width="0.75"/><rect x="481.02" y="114.62" width="3.2" height="3.2" fill="none" stroke="#ff5050" stroke-width="0.75"/><rect x="484.32" y="112.15" width="3.2" height="3.2" fill="none" stroke="#ff5050" stroke-width="0.75"/><rect x="487.62" y="109.68" width="3.2" height="3.2" fill="none" stroke="#ff5050" stroke-width="0.75"/><rect x="490.92" y="107.26" width="3.2" height="3.2" fill="none" stroke="#ff5050" stroke-width="0.75"/><rect x="494.22" y="105.59" width="3.2" height="3.2" fill="none" stroke="#ff5050" stroke-width="0.75"/><rect x="497.52" y="102.97" width="3.2" height="3.2" fill="none" stroke="#ff5050" stroke-width="0.75"/><rect x="500.82" y="99.94" width="3.2" height="3.2" fill="none" stroke="#ff5050" stroke-width="0.75"/><rect x="504.12" y="97.08" width="3.2" height="3.2" fill="none" stroke="#ff5050" stroke-width="0.75"/><rect x="507.42" y="95.37" width="3.2" height="3.2" fill="none" stroke="#ff5050" stroke-width="0.75"/><rect x="510.72" y="91.84" width="3.2" height="3.2" fill="none" stroke="#ff5050" stroke-width="0.75"/><rect x="514.02" y="87.52" width="3.2" height="3.2" fill="none" stroke="#ff5050" stroke-width="0.75"/><rect x="517.32" y="83.61" width="3.2" height="3.2" fill="none" stroke="#ff5050" stroke-width="0.75"/><rect x="520.62" y="79.71" width="3.2" height="3.2" fill="none" stroke="#ff5050" stroke-width="0.75"/><rect x="523.92" y="73.8" width="3.2" height="3.2" fill="none" stroke="#ff5050" stroke-width="0.75"/><rect x="527.22" y="67.9" width="3.2" height="3.2" fill="none" stroke="#ff5050" stroke-width="0.75"/><rect x="530.53" y="62.94" width="3.2" height="3.2" fill="none" stroke="#ff5050" stroke-width="0.75"/><rect x="533.83" y="59.2" width="3.2" height="3.2" fill="none" stroke="#ff5050" stroke-width="0.75"/><rect x="537.13" y="55.36" width="3.2" height="3.2" fill="none" stroke="#ff5050" stroke-width="0.75"/><rect x="540.43" y="51.37" width="3.2" height="3.2" fill="none" stroke="#ff5050" stroke-width="0.75"/><rect x="543.73" y="47.39" width="3.2" height="3.2" fill="none" stroke="#ff5050" stroke-width="0.75"/><path d="M324.2 176.25L326.1 179.48L322.3 179.48Z" fill="none" stroke="#5050ff" stroke-width="0.75"/><path d="M327.5 175.99L329.4 179.22L325.6 179.22Z" fill="none" stroke="#5050ff" stroke-width="0.75"/><path d="M330.8 175.73L332.7 178.96L328.9 178.96Z" fill="none" stroke="#5050ff" stroke-width="0.75"/><path d="M334.1 175.47L336 178.7L332.2 178.7Z" fill="none" stroke="#5050ff" stroke-width="0.75"/><path d="M337.4 175.21L339.3 178.44L335.5 178.44Z" fill="none" stroke="#5050ff" stroke-width="0.75"/><path d="M340.7 174.94L342.6 178.17L338.8 178.17Z" fill="none" stroke="#5050ff" stroke-width="0.75"/><path d="M344 174.68L345.9 177.91L342.1 177.91Z" fill="none" stroke="#5050ff" stroke-width="0.75"/><path d="M347.3 174.42L349.2 177.65L345.4 177.65Z" fill="none" stroke="#5050ff" stroke-width="0.75"/><path d="M350.6 174.16L352.5 177.39L348.7 177.39Z" fill="none" stroke="#5050ff" stroke-width="0.75"/><path d="M353.9 173.9L355.8 177.13L352 177.13Z" fill="none" stroke="#5050ff" stroke-width="0.75"/><path d="M357.2 173.2L359.1 176.43L355.3 176.43Z" fill="none" stroke="#5050ff" stroke-width="0.75"/><path d="M360.5 172.22L362.4 175.45L358.6 175.45Z" fill="none" stroke="#5050ff" stroke-width="0.75"/><path d="M363.8 171.24L365.7 174.47L361.9 174.47Z" fill="none" stroke="#5050ff" stroke-width="0.75"/><path d="M367.11 170.25L369.01 173.48L365.21 173.48Z" fill="none" stroke="#5050ff" stroke-width="0.75"/><path d="M370.41 169.27L372.31 172.5L368.51 172.5Z" fill="none" stroke="#5050ff" stroke-width="0.75"/><path d="M373.71 168.14L375.61 171.37L371.81 171.37Z" fill="none" stroke="#5050ff" stroke-width="0.75"/><path d="M377.01 166.97L378.91 170.2L375.11 170.2Z" fill="none" stroke="#5050ff" stroke-width="0.75"/><path d="M380.31 165.8L382.21 169.03L378.41 169.03Z" fill="none" stroke="#5050ff" stroke-width="0.75"/><path d="M383.61 164.63L385.51 167.86L381.71 167.86Z" fill="none" stroke="#5050ff" stroke-width="0.75"/><path d="M386.91 163.46L388.81 166.69L385.01 166.69Z" fill="none" stroke="#5050ff" stroke-width="0.75"/><path d="M390.21 162.21L392.11 165.44L388.31 165.44Z" fill="none" stroke="#5050ff" stroke-width="0.75"/><path d="M393.51 160.97L395.41 164.2L391.61 164.2Z" fill="none" stroke="#5050ff" stroke-width="0.75"/><path d="M396.81 159.72L398.71 162.95L394.91 162.95Z" fill="none" stroke="#5050ff" stroke-width="0.75"/><path d="M400.11 158.58L402.01 161.81L398.21 161.81Z" fill="none" stroke="#5050ff" stroke-width="0.75"/><path d="M403.41 157.67L405.31 160.9L401.51 160.9Z" fill="none" stroke="#5050ff" stroke-width="0.75"/><path d="M406.71 156.76L408.61 159.99L404.81 159.99Z" fill="none" stroke="#5050ff" stroke-width="0.75"/><path d="M410.01 155.85L411.91 159.08L408.11 159.08Z" fill="none" stroke="#5050ff" stroke-width="0.75"/><path d="M413.31 154.01L415.21 157.24L411.41 157.24Z" fill="none" stroke="#5050ff" stroke-width="0.75"/><path d="M416.61 152.08L418.51 155.31L414.71 155.31Z" fill="none" stroke="#5050ff" stroke-width="0.75"/><path d="M419.91 150.15L421.81 153.38L418.01 153.38Z" fill="none" stroke="#5050ff" stroke-width="0.75"/><path d="M423.21 148.24L425.11 151.47L421.31 151.47Z" fill="none" stroke="#5050ff" stroke-width="0.75"/><path d="M426.51 146.33L428.41 149.56L424.61 149.56Z" fill="none" stroke="#5050ff" stroke-width="0.75"/><path d="M429.81 144.42L431.71 147.65L427.91 147.65Z" fill="none" stroke="#5050ff" stroke-width="0.75"/><path d="M433.11 142.52L435.01 145.75L431.21 145.75Z" fill="none" stroke="#5050ff" stroke-width="0.75"/><path d="M436.41 140.61L438.31 143.84L434.51 143.84Z" fill="none" stroke="#5050ff" stroke-width="0.75"/><path d="M439.71 138.75L441.61 141.98L437.81 141.98Z" fill="none" stroke="#5050ff" stroke-width="0.75"/><path d="M443.01 136.96L444.91 140.19L441.11 140.19Z" fill="none" stroke="#5050ff" stroke-width="0.75"/><path d="M446.31 135.16L448.21 138.39L444.41 138.39Z" fill="none" stroke="#5050ff" stroke-width="0.75"/><path d="M449.62 133.37L451.52 136.6L447.72 136.6Z" fill="none" stroke="#5050ff" stroke-width="0.75"/><path d="M452.92 131.57L454.82 134.8L451.02 134.8Z" fill="none" stroke="#5050ff" stroke-width="0.75"/><path d="M456.22 129.77L458.12 133L454.32 133Z" fill="none" stroke="#5050ff" stroke-width="0.75"/><path d="M459.52 127.12L461.42 130.35L457.62 130.35Z" fill="none" stroke="#5050ff" stroke-width="0.75"/><path d="M462.82 124.46L464.72 127.69L460.92 127.69Z" fill="none" stroke="#5050ff" stroke-width="0.75"/><path d="M466.12 121.81L468.02 125.04L464.22 125.04Z" fill="none" stroke="#5050ff" stroke-width="0.75"/><path d="M469.42 119.15L471.32 122.38L467.52 122.38Z" fill="none" stroke="#5050ff" stroke-width="0.75"/><path d="M472.72 116.49L474.62 119.72L470.82 119.72Z" fill="none" stroke="#5050ff" stroke-width="0.75"/><path d="M476.02 113.04L477.92 116.27L474.12 116.27Z" fill="none" stroke="#5050ff" stroke-width="0.75"/><path d="M479.32 109.75L481.22 112.98L477.42 112.98Z" fill="none" stroke="#5050ff" stroke-width="0.75"/><path d="M482.62 107.56L484.52 110.79L480.72 110.79Z" fill="none" stroke="#5050ff" stroke-width="0.75"/><path d="M485.92 105.36L487.82 108.59L484.02 108.59Z" fill="none" stroke="#5050ff" stroke-width="0.75"/><path d="M489.22 103.34L491.12 106.57L487.32 106.57Z" fill="none" stroke="#5050ff" stroke-width="0.75"/><path d="M492.52 101.39L494.42 104.62L490.62 104.62Z" fill="none" stroke="#5050ff" stroke-width="0.75"/><path d="M495.82 99.44L497.72 102.67L493.92 102.67Z" fill="none" stroke="#5050ff" stroke-width="0.75"/><path d="M499.12 97.01L501.02 100.24L497.22 100.24Z" fill="none" stroke="#5050ff" stroke-width="0.75"/><path d="M502.42 94.38L504.32 97.61L500.52 97.61Z" fill="none" stroke="#5050ff" stroke-width="0.75"/><path d="M505.72 91.65L507.62 94.88L503.82 94.88Z" fill="none" stroke="#5050ff" stroke-width="0.75"/><path d="M509.02 88.3L510.92 91.53L507.12 91.53Z" fill="none" stroke="#5050ff" stroke-width="0.75"/><path d="M512.32 84.95L514.22 88.18L510.42 88.18Z" fill="none" stroke="#5050ff" stroke-width="0.75"/><path d="M515.62 81.83L517.52 85.06L513.72 85.06Z" fill="none" stroke="#5050ff" stroke-width="0.75"/><path d="M518.92 78.88L520.82 82.11L517.02 82.11Z" fill="none" stroke="#5050ff" stroke-width="0.75"/><path d="M522.22 75.93L524.12 79.16L520.32 79.16Z" fill="none" stroke="#5050ff" stroke-width="0.75"/><path d="M525.52 72.66L527.42 75.89L523.62 75.89Z" fill="none" stroke="#5050ff" stroke-width="0.75"/><path d="M528.82 69.39L530.72 72.62L526.92 72.62Z" fill="none" stroke="#5050ff" stroke-width="0.75"/><path d="M532.13 66.13L534.03 69.36L530.23 69.36Z" fill="none" stroke="#5050ff" stroke-width="0.75"/><path d="M535.43 62.9L537.33 66.13L533.53 66.13Z" fill="none" stroke="#5050ff" stroke-width="0.75"/><path d="M538.73 59.49L540.63 62.72L536.83 62.72Z" fill="none" stroke="#5050ff" stroke-width="0.75"/><path d="M542.03 55.82L543.93 59.05L540.13 59.05Z" fill="none" stroke="#5050ff" stroke-width="0.75"/><path d="M545.33 52.15L547.23 55.38L543.43 55.38Z" fill="none" stroke="#5050ff" stroke-width="0.75"/></g>
<polyline points="336.47,177.94 339.98,177.29 343.49,176.64 347,175.99 350.51,175.34 354.03,174.69 357.54,174.03 361.05,173.38 364.56,172.72 368.08,172.06 371.59,171.41 375.1,170.75 378.61,170.09 382.12,169.43 385.64,168.76 389.15,168.1 392.66,167.44 396.17,166.77 399.69,166.1 403.2,165.44 406.71,164.77 410.22,164.1 413.73,163.43 417.25,162.76 420.76,162.08 424.27,161.41 427.78,160.74 431.3,160.06 434.81,159.39 438.32,158.71 441.83,158.03 445.34,157.35 448.86,156.67 452.37,155.99 455.88,155.31 459.39,154.62 462.91,153.94 466.42,153.25 469.93,152.56 473.44,151.88 476.95,151.19 480.47,150.5 483.98,149.81 487.49,149.12 491,148.42 494.52,147.73 498.03,147.04 501.54,146.34 505.05,145.64 508.57,144.95 512.08,144.25 515.59,143.55 519.1,142.85 522.61,142.14 526.13,141.44 529.64,140.74 533.15,140.03 536.66,139.33 540.18,138.62 543.69,137.91 547.2,137.2" fill="none" stroke="#10dd10" stroke-width="3.0"/>
<polyline points="324.2,169.96 327.92,169.28 331.63,168.6 335.35,167.91 339.07,167.22 342.78,166.54 346.5,165.85 350.22,165.16 353.93,164.47 357.65,163.77 361.37,163.08 365.08,162.39 368.8,161.69 372.52,160.99 376.23,160.3 379.95,159.6 383.67,158.9 387.38,158.2 391.1,157.49 394.82,156.79 398.53,156.08 402.25,155.38 405.97,154.67 409.68,153.96 413.4,153.25 417.12,152.54 420.83,151.83 424.55,151.12 428.27,150.41 431.98,149.69 435.7,148.98 439.42,148.26 443.13,147.54 446.85,146.82 450.57,146.1 454.28,145.38 458,144.66 461.72,143.93 465.43,143.21 469.15,142.48 472.87,141.75 476.58,141.02 480.3,140.29 484.02,139.56 487.73,138.83 491.45,138.1 495.17,137.36 498.88,136.63 502.6,135.89 506.32,135.15 510.03,134.42 513.75,133.68 517.47,132.93 521.18,132.19 524.9,131.45 528.62,130.7 532.33,129.96 536.05,129.21 539.77,128.46 543.48,127.72 547.2,126.96" fill="none" stroke="#10e8f8" stroke-width="3"/>
<path d="M323.5 16.4H547.9" stroke="#333" stroke-width="1.4"/>
<path d="M547.2 16.4V180.2" stroke="#606060" stroke-width="1.4"/>
<path d="M324.2 16.4V180.9" stroke="#5a5a5a" stroke-width="1.4"/>
<path d="M323.5 180.2H547.9" stroke="#404040" stroke-width="1.4"/>
<path d="M324.2 180.2V183.7M368.8 180.2V183.7M413.4 180.2V183.7M458 180.2V183.7M502.6 180.2V183.7M547.2 180.2V183.7M346.5 180.2V182.3M391.1 180.2V182.3M435.7 180.2V182.3M480.3 180.2V182.3M524.9 180.2V182.3" stroke="#3a3a3a" stroke-width="1.0" fill="none"/>
<path d="M324.2 180.2H320.7M324.2 159.72H320.7M324.2 139.25H320.7M324.2 118.77H320.7M324.2 98.3H320.7M324.2 77.83H320.7M324.2 57.35H320.7M324.2 36.87H320.7M324.2 16.4H320.7M324.2 169.96H322.1M324.2 149.49H322.1M324.2 129.01H322.1M324.2 108.54H322.1M324.2 88.06H322.1M324.2 67.59H322.1M324.2 47.11H322.1M324.2 26.64H322.1" stroke="#3a3a3a" stroke-width="1.0" fill="none"/>
<text x="324.2" y="191.4" text-anchor="middle" fill="#000" stroke="#000" stroke-width="0.12" style="font-family:'Liberation Sans', sans-serif;font-size:6.8px;white-space:pre;">1.00</text>
<text x="368.8" y="191.4" text-anchor="middle" fill="#000" stroke="#000" stroke-width="0.12" style="font-family:'Liberation Sans', sans-serif;font-size:6.8px;white-space:pre;">1.02</text>
<text x="413.4" y="191.4" text-anchor="middle" fill="#000" stroke="#000" stroke-width="0.12" style="font-family:'Liberation Sans', sans-serif;font-size:6.8px;white-space:pre;">1.04</text>
<text x="458" y="191.4" text-anchor="middle" fill="#000" stroke="#000" stroke-width="0.12" style="font-family:'Liberation Sans', sans-serif;font-size:6.8px;white-space:pre;">1.06</text>
<text x="502.6" y="191.4" text-anchor="middle" fill="#000" stroke="#000" stroke-width="0.12" style="font-family:'Liberation Sans', sans-serif;font-size:6.8px;white-space:pre;">1.08</text>
<text x="547.2" y="191.4" text-anchor="middle" fill="#000" stroke="#000" stroke-width="0.12" style="font-family:'Liberation Sans', sans-serif;font-size:6.8px;white-space:pre;">1.10</text>
<text x="318.9" y="182.2" text-anchor="end" fill="#000" stroke="#000" stroke-width="0.12" style="font-family:'Liberation Sans', sans-serif;font-size:6.8px;white-space:pre;">1.0</text>
<text x="318.9" y="161.72" text-anchor="end" fill="#000" stroke="#000" stroke-width="0.12" style="font-family:'Liberation Sans', sans-serif;font-size:6.8px;white-space:pre;">1.1</text>
<text x="318.9" y="141.25" text-anchor="end" fill="#000" stroke="#000" stroke-width="0.12" style="font-family:'Liberation Sans', sans-serif;font-size:6.8px;white-space:pre;">1.2</text>
<text x="318.9" y="120.77" text-anchor="end" fill="#000" stroke="#000" stroke-width="0.12" style="font-family:'Liberation Sans', sans-serif;font-size:6.8px;white-space:pre;">1.3</text>
<text x="318.9" y="100.3" text-anchor="end" fill="#000" stroke="#000" stroke-width="0.12" style="font-family:'Liberation Sans', sans-serif;font-size:6.8px;white-space:pre;">1.4</text>
<text x="318.9" y="79.83" text-anchor="end" fill="#000" stroke="#000" stroke-width="0.12" style="font-family:'Liberation Sans', sans-serif;font-size:6.8px;white-space:pre;">1.5</text>
<text x="318.9" y="59.35" text-anchor="end" fill="#000" stroke="#000" stroke-width="0.12" style="font-family:'Liberation Sans', sans-serif;font-size:6.8px;white-space:pre;">1.6</text>
<text x="318.9" y="38.87" text-anchor="end" fill="#000" stroke="#000" stroke-width="0.12" style="font-family:'Liberation Sans', sans-serif;font-size:6.8px;white-space:pre;">1.7</text>
<text x="318.9" y="18.4" text-anchor="end" fill="#000" stroke="#000" stroke-width="0.12" style="font-family:'Liberation Sans', sans-serif;font-size:6.8px;white-space:pre;">1.8</text>
<text transform="translate(302.8 112.2) rotate(-90)" fill="#000" stroke="#000" stroke-width="0.1" style="font-family:'Liberation Sans', sans-serif;font-size:8.4px;font-weight:bold">R/R<tspan dx="-0.8" dy="2.6" style="font-size:5px">o</tspan></text>
<text x="0" y="0" transform="translate(428.7 204.8) scale(1 1.18)" fill="#000" stroke="#000" stroke-width="0.2" style="font-family:'Liberation Sans', sans-serif;font-size:8px">L/L<tspan dy="2.4" style="font-size:5px">o</tspan></text>
<circle cx="337.9" cy="26.6" r="1.65" fill="none" stroke="#444444" stroke-width="0.75"/>
<text x="0" y="0" transform="translate(349.9 29.2) scale(1 1.1)" text-anchor="start" fill="#000" stroke="#000" stroke-width="0.12" style="font-family:'Liberation Sans', sans-serif;font-size:8px;white-space:pre;">150°C 30min</text>
<rect x="336.3" y="36.9" width="3.2" height="3.2" fill="none" stroke="#ff5050" stroke-width="0.75"/>
<text x="0" y="0" transform="translate(349.9 41.1) scale(1 1.1)" text-anchor="start" fill="#000" stroke="#000" stroke-width="0.12" style="font-family:'Liberation Sans', sans-serif;font-size:8px;white-space:pre;">+180°C 6hr</text>
<path d="M337.9 48L339.8 51.23L336 51.23Z" fill="none" stroke="#5050ff" stroke-width="0.75"/>
<text x="0" y="0" transform="translate(349.9 52.5) scale(1 1.1)" text-anchor="start" fill="#000" stroke="#000" stroke-width="0.12" style="font-family:'Liberation Sans', sans-serif;font-size:8px;white-space:pre;"> +230°C 6hr</text>
<circle cx="337.9" cy="61.6" r="1" fill="#10dd10"/>
<text x="0" y="0" transform="translate(349.9 64.2) scale(1 1.1)" text-anchor="start" fill="#000" stroke="#000" stroke-width="0.12" style="font-family:'Liberation Sans', sans-serif;font-size:8px;white-space:pre;">R/R<tspan dy="2.3" font-size="5">o</tspan><tspan dy="-2.3">=(L/L</tspan><tspan dy="2.3" font-size="5">o</tspan><tspan dy="-2.3">)</tspan><tspan dy="-3.8" font-size="4.6">2</tspan></text>
<circle cx="337.9" cy="76.1" r="1" fill="#10e8f8"/>
<text x="0" y="0" transform="translate(349.9 78.7) scale(1 1.1)" text-anchor="start" fill="#000" stroke="#000" stroke-width="0.12" style="font-family:'Liberation Sans', sans-serif;font-size:8px;white-space:pre;">(L/L<tspan dy="2.3" font-size="5">o</tspan><tspan dy="-2.3">)</tspan><tspan dy="-3.8" font-size="4.6">2</tspan><tspan dy="3.8">+0.05</tspan></text>
<g><circle cx="600.5" cy="179.14" r="1.65" fill="none" stroke="#444444" stroke-width="0.75"/><circle cx="603.85" cy="179.14" r="1.65" fill="none" stroke="#444444" stroke-width="0.75"/><circle cx="607.2" cy="179.14" r="1.65" fill="none" stroke="#444444" stroke-width="0.75"/><circle cx="610.54" cy="179.14" r="1.65" fill="none" stroke="#444444" stroke-width="0.75"/><circle cx="613.89" cy="179.14" r="1.65" fill="none" stroke="#444444" stroke-width="0.75"/><circle cx="617.24" cy="179.08" r="1.65" fill="none" stroke="#444444" stroke-width="0.75"/><circle cx="620.59" cy="178.95" r="1.65" fill="none" stroke="#444444" stroke-width="0.75"/><circle cx="623.93" cy="178.81" r="1.65" fill="none" stroke="#444444" stroke-width="0.75"/><circle cx="627.28" cy="178.68" r="1.65" fill="none" stroke="#444444" stroke-width="0.75"/><circle cx="630.63" cy="178.55" r="1.65" fill="none" stroke="#444444" stroke-width="0.75"/><circle cx="633.98" cy="178.16" r="1.65" fill="none" stroke="#444444" stroke-width="0.75"/><circle cx="637.33" cy="177.73" r="1.65" fill="none" stroke="#444444" stroke-width="0.75"/><circle cx="640.67" cy="177.29" r="1.65" fill="none" stroke="#444444" stroke-width="0.75"/><circle cx="644.02" cy="176.85" r="1.65" fill="none" stroke="#444444" stroke-width="0.75"/><circle cx="647.37" cy="176.39" r="1.65" fill="none" stroke="#444444" stroke-width="0.75"/><circle cx="650.72" cy="175.73" r="1.65" fill="none" stroke="#444444" stroke-width="0.75"/><circle cx="654.06" cy="175.06" r="1.65" fill="none" stroke="#444444" stroke-width="0.75"/><circle cx="657.41" cy="174.39" r="1.65" fill="none" stroke="#444444" stroke-width="0.75"/><circle cx="660.76" cy="173.73" r="1.65" fill="none" stroke="#444444" stroke-width="0.75"/><circle cx="664.11" cy="173.06" r="1.65" fill="none" stroke="#444444" stroke-width="0.75"/><circle cx="667.46" cy="172.39" r="1.65" fill="none" stroke="#444444" stroke-width="0.75"/><circle cx="670.8" cy="171.73" r="1.65" fill="none" stroke="#444444" stroke-width="0.75"/><circle cx="674.15" cy="171.06" r="1.65" fill="none" stroke="#444444" stroke-width="0.75"/><circle cx="677.5" cy="170.39" r="1.65" fill="none" stroke="#444444" stroke-width="0.75"/><circle cx="680.85" cy="169.69" r="1.65" fill="none" stroke="#444444" stroke-width="0.75"/><circle cx="684.19" cy="168.98" r="1.65" fill="none" stroke="#444444" stroke-width="0.75"/><circle cx="687.54" cy="168.27" r="1.65" fill="none" stroke="#444444" stroke-width="0.75"/><circle cx="690.89" cy="167.56" r="1.65" fill="none" stroke="#444444" stroke-width="0.75"/><circle cx="694.24" cy="166.83" r="1.65" fill="none" stroke="#444444" stroke-width="0.75"/><circle cx="697.59" cy="165.95" r="1.65" fill="none" stroke="#444444" stroke-width="0.75"/><circle cx="700.93" cy="165.08" r="1.65" fill="none" stroke="#444444" stroke-width="0.75"/><circle cx="704.28" cy="164.08" r="1.65" fill="none" stroke="#444444" stroke-width="0.75"/><circle cx="707.63" cy="163.04" r="1.65" fill="none" stroke="#444444" stroke-width="0.75"/><circle cx="710.98" cy="162.01" r="1.65" fill="none" stroke="#444444" stroke-width="0.75"/><circle cx="714.32" cy="160.97" r="1.65" fill="none" stroke="#444444" stroke-width="0.75"/><circle cx="717.67" cy="159.93" r="1.65" fill="none" stroke="#444444" stroke-width="0.75"/><circle cx="721.02" cy="158.89" r="1.65" fill="none" stroke="#444444" stroke-width="0.75"/><circle cx="724.37" cy="157.85" r="1.65" fill="none" stroke="#444444" stroke-width="0.75"/><circle cx="727.71" cy="156.81" r="1.65" fill="none" stroke="#444444" stroke-width="0.75"/><circle cx="731.06" cy="155.65" r="1.65" fill="none" stroke="#444444" stroke-width="0.75"/><circle cx="734.41" cy="154.28" r="1.65" fill="none" stroke="#444444" stroke-width="0.75"/><circle cx="737.76" cy="152.9" r="1.65" fill="none" stroke="#444444" stroke-width="0.75"/><circle cx="741.11" cy="151.52" r="1.65" fill="none" stroke="#444444" stroke-width="0.75"/><circle cx="744.45" cy="150.14" r="1.65" fill="none" stroke="#444444" stroke-width="0.75"/><circle cx="747.8" cy="148.38" r="1.65" fill="none" stroke="#444444" stroke-width="0.75"/><circle cx="751.15" cy="146.45" r="1.65" fill="none" stroke="#444444" stroke-width="0.75"/><circle cx="754.5" cy="144.51" r="1.65" fill="none" stroke="#444444" stroke-width="0.75"/><circle cx="757.84" cy="142.38" r="1.65" fill="none" stroke="#444444" stroke-width="0.75"/><circle cx="761.19" cy="140.11" r="1.65" fill="none" stroke="#444444" stroke-width="0.75"/><circle cx="764.54" cy="137.84" r="1.65" fill="none" stroke="#444444" stroke-width="0.75"/><circle cx="767.89" cy="135.57" r="1.65" fill="none" stroke="#444444" stroke-width="0.75"/><circle cx="771.24" cy="133.76" r="1.65" fill="none" stroke="#444444" stroke-width="0.75"/><circle cx="774.58" cy="131.72" r="1.65" fill="none" stroke="#444444" stroke-width="0.75"/><circle cx="777.93" cy="128.43" r="1.65" fill="none" stroke="#444444" stroke-width="0.75"/><circle cx="781.28" cy="124.9" r="1.65" fill="none" stroke="#444444" stroke-width="0.75"/><circle cx="784.63" cy="120.92" r="1.65" fill="none" stroke="#444444" stroke-width="0.75"/><circle cx="787.97" cy="117.73" r="1.65" fill="none" stroke="#444444" stroke-width="0.75"/><circle cx="791.32" cy="115.23" r="1.65" fill="none" stroke="#444444" stroke-width="0.75"/><circle cx="794.67" cy="112.27" r="1.65" fill="none" stroke="#444444" stroke-width="0.75"/><circle cx="798.02" cy="108.47" r="1.65" fill="none" stroke="#444444" stroke-width="0.75"/><circle cx="801.37" cy="104.36" r="1.65" fill="none" stroke="#444444" stroke-width="0.75"/><circle cx="804.71" cy="100.4" r="1.65" fill="none" stroke="#444444" stroke-width="0.75"/><circle cx="808.06" cy="97.2" r="1.65" fill="none" stroke="#444444" stroke-width="0.75"/><circle cx="811.41" cy="93.11" r="1.65" fill="none" stroke="#444444" stroke-width="0.75"/><circle cx="814.76" cy="88.52" r="1.65" fill="none" stroke="#444444" stroke-width="0.75"/><circle cx="818.1" cy="83.51" r="1.65" fill="none" stroke="#444444" stroke-width="0.75"/><circle cx="821.45" cy="79.74" r="1.65" fill="none" stroke="#444444" stroke-width="0.75"/><circle cx="824.8" cy="76.44" r="1.65" fill="none" stroke="#444444" stroke-width="0.75"/><rect x="598.9" y="177.13" width="3.2" height="3.2" fill="none" stroke="#ff5050" stroke-width="0.75"/><rect x="602.25" y="176.58" width="3.2" height="3.2" fill="none" stroke="#ff5050" stroke-width="0.75"/><rect x="605.6" y="176.03" width="3.2" height="3.2" fill="none" stroke="#ff5050" stroke-width="0.75"/><rect x="608.94" y="175.33" width="3.2" height="3.2" fill="none" stroke="#ff5050" stroke-width="0.75"/><rect x="612.29" y="174.36" width="3.2" height="3.2" fill="none" stroke="#ff5050" stroke-width="0.75"/><rect x="615.64" y="173.4" width="3.2" height="3.2" fill="none" stroke="#ff5050" stroke-width="0.75"/><rect x="618.99" y="172.96" width="3.2" height="3.2" fill="none" stroke="#ff5050" stroke-width="0.75"/><rect x="622.33" y="172.57" width="3.2" height="3.2" fill="none" stroke="#ff5050" stroke-width="0.75"/><rect x="625.68" y="172.57" width="3.2" height="3.2" fill="none" stroke="#ff5050" stroke-width="0.75"/><rect x="629.03" y="172.57" width="3.2" height="3.2" fill="none" stroke="#ff5050" stroke-width="0.75"/><rect x="632.38" y="171.62" width="3.2" height="3.2" fill="none" stroke="#ff5050" stroke-width="0.75"/><rect x="635.73" y="171.2" width="3.2" height="3.2" fill="none" stroke="#ff5050" stroke-width="0.75"/><rect x="639.07" y="171.94" width="3.2" height="3.2" fill="none" stroke="#ff5050" stroke-width="0.75"/><rect x="642.42" y="172.46" width="3.2" height="3.2" fill="none" stroke="#ff5050" stroke-width="0.75"/><rect x="645.77" y="171.77" width="3.2" height="3.2" fill="none" stroke="#ff5050" stroke-width="0.75"/><rect x="649.12" y="171.09" width="3.2" height="3.2" fill="none" stroke="#ff5050" stroke-width="0.75"/><rect x="652.46" y="170.4" width="3.2" height="3.2" fill="none" stroke="#ff5050" stroke-width="0.75"/><rect x="655.81" y="169.71" width="3.2" height="3.2" fill="none" stroke="#ff5050" stroke-width="0.75"/><rect x="659.16" y="169.03" width="3.2" height="3.2" fill="none" stroke="#ff5050" stroke-width="0.75"/><rect x="662.51" y="167.59" width="3.2" height="3.2" fill="none" stroke="#ff5050" stroke-width="0.75"/><rect x="665.86" y="165.11" width="3.2" height="3.2" fill="none" stroke="#ff5050" stroke-width="0.75"/><rect x="669.2" y="162.62" width="3.2" height="3.2" fill="none" stroke="#ff5050" stroke-width="0.75"/><rect x="672.55" y="161.58" width="3.2" height="3.2" fill="none" stroke="#ff5050" stroke-width="0.75"/><rect x="675.9" y="161.58" width="3.2" height="3.2" fill="none" stroke="#ff5050" stroke-width="0.75"/><rect x="679.25" y="160.63" width="3.2" height="3.2" fill="none" stroke="#ff5050" stroke-width="0.75"/><rect x="682.59" y="159.37" width="3.2" height="3.2" fill="none" stroke="#ff5050" stroke-width="0.75"/><rect x="685.94" y="158.11" width="3.2" height="3.2" fill="none" stroke="#ff5050" stroke-width="0.75"/><rect x="689.29" y="156.85" width="3.2" height="3.2" fill="none" stroke="#ff5050" stroke-width="0.75"/><rect x="692.64" y="155.82" width="3.2" height="3.2" fill="none" stroke="#ff5050" stroke-width="0.75"/><rect x="695.99" y="154.8" width="3.2" height="3.2" fill="none" stroke="#ff5050" stroke-width="0.75"/><rect x="699.33" y="153.78" width="3.2" height="3.2" fill="none" stroke="#ff5050" stroke-width="0.75"/><rect x="702.68" y="152.17" width="3.2" height="3.2" fill="none" stroke="#ff5050" stroke-width="0.75"/><rect x="706.03" y="150.35" width="3.2" height="3.2" fill="none" stroke="#ff5050" stroke-width="0.75"/><rect x="709.38" y="148.53" width="3.2" height="3.2" fill="none" stroke="#ff5050" stroke-width="0.75"/><rect x="712.72" y="146.71" width="3.2" height="3.2" fill="none" stroke="#ff5050" stroke-width="0.75"/><rect x="716.07" y="144.89" width="3.2" height="3.2" fill="none" stroke="#ff5050" stroke-width="0.75"/><rect x="719.42" y="143.07" width="3.2" height="3.2" fill="none" stroke="#ff5050" stroke-width="0.75"/><rect x="722.77" y="141.33" width="3.2" height="3.2" fill="none" stroke="#ff5050" stroke-width="0.75"/><rect x="726.11" y="139.87" width="3.2" height="3.2" fill="none" stroke="#ff5050" stroke-width="0.75"/><rect x="729.46" y="138.4" width="3.2" height="3.2" fill="none" stroke="#ff5050" stroke-width="0.75"/><rect x="732.81" y="136.94" width="3.2" height="3.2" fill="none" stroke="#ff5050" stroke-width="0.75"/><rect x="736.16" y="135.47" width="3.2" height="3.2" fill="none" stroke="#ff5050" stroke-width="0.75"/><rect x="739.51" y="132.63" width="3.2" height="3.2" fill="none" stroke="#ff5050" stroke-width="0.75"/><rect x="742.85" y="129.25" width="3.2" height="3.2" fill="none" stroke="#ff5050" stroke-width="0.75"/><rect x="746.2" y="128.98" width="3.2" height="3.2" fill="none" stroke="#ff5050" stroke-width="0.75"/><rect x="749.55" y="128.54" width="3.2" height="3.2" fill="none" stroke="#ff5050" stroke-width="0.75"/><rect x="752.9" y="125.83" width="3.2" height="3.2" fill="none" stroke="#ff5050" stroke-width="0.75"/><rect x="756.24" y="123.37" width="3.2" height="3.2" fill="none" stroke="#ff5050" stroke-width="0.75"/><rect x="759.59" y="121.1" width="3.2" height="3.2" fill="none" stroke="#ff5050" stroke-width="0.75"/><rect x="762.94" y="119.26" width="3.2" height="3.2" fill="none" stroke="#ff5050" stroke-width="0.75"/><rect x="766.29" y="117.55" width="3.2" height="3.2" fill="none" stroke="#ff5050" stroke-width="0.75"/><rect x="769.64" y="112.4" width="3.2" height="3.2" fill="none" stroke="#ff5050" stroke-width="0.75"/><rect x="772.98" y="108.55" width="3.2" height="3.2" fill="none" stroke="#ff5050" stroke-width="0.75"/><rect x="776.33" y="106.16" width="3.2" height="3.2" fill="none" stroke="#ff5050" stroke-width="0.75"/><rect x="779.68" y="103.79" width="3.2" height="3.2" fill="none" stroke="#ff5050" stroke-width="0.75"/><rect x="783.03" y="101.43" width="3.2" height="3.2" fill="none" stroke="#ff5050" stroke-width="0.75"/><rect x="786.37" y="97.89" width="3.2" height="3.2" fill="none" stroke="#ff5050" stroke-width="0.75"/><rect x="789.72" y="94.08" width="3.2" height="3.2" fill="none" stroke="#ff5050" stroke-width="0.75"/><rect x="793.07" y="90.03" width="3.2" height="3.2" fill="none" stroke="#ff5050" stroke-width="0.75"/><rect x="796.42" y="85.56" width="3.2" height="3.2" fill="none" stroke="#ff5050" stroke-width="0.75"/><rect x="799.77" y="80.88" width="3.2" height="3.2" fill="none" stroke="#ff5050" stroke-width="0.75"/><rect x="803.11" y="76.19" width="3.2" height="3.2" fill="none" stroke="#ff5050" stroke-width="0.75"/><rect x="806.46" y="72.15" width="3.2" height="3.2" fill="none" stroke="#ff5050" stroke-width="0.75"/><rect x="809.81" y="67.94" width="3.2" height="3.2" fill="none" stroke="#ff5050" stroke-width="0.75"/><rect x="813.16" y="63.48" width="3.2" height="3.2" fill="none" stroke="#ff5050" stroke-width="0.75"/><rect x="816.5" y="58.32" width="3.2" height="3.2" fill="none" stroke="#ff5050" stroke-width="0.75"/><rect x="819.85" y="54.43" width="3.2" height="3.2" fill="none" stroke="#ff5050" stroke-width="0.75"/><rect x="823.2" y="51" width="3.2" height="3.2" fill="none" stroke="#ff5050" stroke-width="0.75"/><path d="M600.5 176.83L602.4 180.06L598.6 180.06Z" fill="none" stroke="#5050ff" stroke-width="0.75"/><path d="M603.85 176.73L605.75 179.96L601.95 179.96Z" fill="none" stroke="#5050ff" stroke-width="0.75"/><path d="M607.2 176.62L609.1 179.85L605.3 179.85Z" fill="none" stroke="#5050ff" stroke-width="0.75"/><path d="M610.54 176.52L612.44 179.75L608.64 179.75Z" fill="none" stroke="#5050ff" stroke-width="0.75"/><path d="M613.89 176.42L615.79 179.65L611.99 179.65Z" fill="none" stroke="#5050ff" stroke-width="0.75"/><path d="M617.24 175.78L619.14 179.01L615.34 179.01Z" fill="none" stroke="#5050ff" stroke-width="0.75"/><path d="M620.59 175.1L622.49 178.33L618.69 178.33Z" fill="none" stroke="#5050ff" stroke-width="0.75"/><path d="M623.93 174.43L625.83 177.66L622.03 177.66Z" fill="none" stroke="#5050ff" stroke-width="0.75"/><path d="M627.28 173.76L629.18 176.99L625.38 176.99Z" fill="none" stroke="#5050ff" stroke-width="0.75"/><path d="M630.63 173.09L632.53 176.32L628.73 176.32Z" fill="none" stroke="#5050ff" stroke-width="0.75"/><path d="M633.98 172.34L635.88 175.57L632.08 175.57Z" fill="none" stroke="#5050ff" stroke-width="0.75"/><path d="M637.33 171.6L639.23 174.83L635.43 174.83Z" fill="none" stroke="#5050ff" stroke-width="0.75"/><path d="M640.67 170.86L642.57 174.09L638.77 174.09Z" fill="none" stroke="#5050ff" stroke-width="0.75"/><path d="M644.02 170.11L645.92 173.34L642.12 173.34Z" fill="none" stroke="#5050ff" stroke-width="0.75"/><path d="M647.37 169.16L649.27 172.39L645.47 172.39Z" fill="none" stroke="#5050ff" stroke-width="0.75"/><path d="M650.72 168.04L652.62 171.27L648.82 171.27Z" fill="none" stroke="#5050ff" stroke-width="0.75"/><path d="M654.06 166.91L655.96 170.14L652.16 170.14Z" fill="none" stroke="#5050ff" stroke-width="0.75"/><path d="M657.41 165.93L659.31 169.16L655.51 169.16Z" fill="none" stroke="#5050ff" stroke-width="0.75"/><path d="M660.76 164.98L662.66 168.21L658.86 168.21Z" fill="none" stroke="#5050ff" stroke-width="0.75"/><path d="M664.11 164.03L666.01 167.26L662.21 167.26Z" fill="none" stroke="#5050ff" stroke-width="0.75"/><path d="M667.46 165.72L669.36 168.95L665.56 168.95Z" fill="none" stroke="#5050ff" stroke-width="0.75"/><path d="M670.8 167.56L672.7 170.79L668.9 170.79Z" fill="none" stroke="#5050ff" stroke-width="0.75"/><path d="M674.15 166.02L676.05 169.25L672.25 169.25Z" fill="none" stroke="#5050ff" stroke-width="0.75"/><path d="M677.5 162.05L679.4 165.28L675.6 165.28Z" fill="none" stroke="#5050ff" stroke-width="0.75"/><path d="M680.85 159.15L682.75 162.38L678.95 162.38Z" fill="none" stroke="#5050ff" stroke-width="0.75"/><path d="M684.19 158.93L686.09 162.16L682.29 162.16Z" fill="none" stroke="#5050ff" stroke-width="0.75"/><path d="M687.54 158.71L689.44 161.94L685.64 161.94Z" fill="none" stroke="#5050ff" stroke-width="0.75"/><path d="M690.89 155.95L692.79 159.18L688.99 159.18Z" fill="none" stroke="#5050ff" stroke-width="0.75"/><path d="M694.24 152.35L696.14 155.58L692.34 155.58Z" fill="none" stroke="#5050ff" stroke-width="0.75"/><path d="M697.59 151.08L699.49 154.31L695.69 154.31Z" fill="none" stroke="#5050ff" stroke-width="0.75"/><path d="M700.93 148.77L702.83 152L699.03 152Z" fill="none" stroke="#5050ff" stroke-width="0.75"/><path d="M704.28 146.31L706.18 149.54L702.38 149.54Z" fill="none" stroke="#5050ff" stroke-width="0.75"/><path d="M707.63 143.86L709.53 147.09L705.73 147.09Z" fill="none" stroke="#5050ff" stroke-width="0.75"/><path d="M710.98 141.4L712.88 144.63L709.08 144.63Z" fill="none" stroke="#5050ff" stroke-width="0.75"/><path d="M714.32 139.15L716.22 142.38L712.42 142.38Z" fill="none" stroke="#5050ff" stroke-width="0.75"/><path d="M717.67 137.12L719.57 140.35L715.77 140.35Z" fill="none" stroke="#5050ff" stroke-width="0.75"/><path d="M721.02 135.09L722.92 138.32L719.12 138.32Z" fill="none" stroke="#5050ff" stroke-width="0.75"/><path d="M724.37 133.05L726.27 136.28L722.47 136.28Z" fill="none" stroke="#5050ff" stroke-width="0.75"/><path d="M727.71 131.02L729.61 134.25L725.81 134.25Z" fill="none" stroke="#5050ff" stroke-width="0.75"/><path d="M731.06 128.98L732.96 132.21L729.16 132.21Z" fill="none" stroke="#5050ff" stroke-width="0.75"/><path d="M734.41 126.88L736.31 130.11L732.51 130.11Z" fill="none" stroke="#5050ff" stroke-width="0.75"/><path d="M737.76 123.81L739.66 127.04L735.86 127.04Z" fill="none" stroke="#5050ff" stroke-width="0.75"/><path d="M741.11 120.75L743.01 123.98L739.21 123.98Z" fill="none" stroke="#5050ff" stroke-width="0.75"/><path d="M744.45 117.68L746.35 120.91L742.55 120.91Z" fill="none" stroke="#5050ff" stroke-width="0.75"/><path d="M747.8 114.52L749.7 117.75L745.9 117.75Z" fill="none" stroke="#5050ff" stroke-width="0.75"/><path d="M751.15 111.7L753.05 114.93L749.25 114.93Z" fill="none" stroke="#5050ff" stroke-width="0.75"/><path d="M754.5 109.69L756.4 112.92L752.6 112.92Z" fill="none" stroke="#5050ff" stroke-width="0.75"/><path d="M757.84 107.66L759.74 110.89L755.94 110.89Z" fill="none" stroke="#5050ff" stroke-width="0.75"/><path d="M761.19 105.62L763.09 108.85L759.29 108.85Z" fill="none" stroke="#5050ff" stroke-width="0.75"/><path d="M764.54 103.13L766.44 106.36L762.64 106.36Z" fill="none" stroke="#5050ff" stroke-width="0.75"/><path d="M767.21 115.48L769.11 118.71L765.31 118.71Z" fill="none" stroke="#5050ff" stroke-width="0.75"/><path d="M770.56 114.56L772.46 117.79L768.66 117.79Z" fill="none" stroke="#5050ff" stroke-width="0.75"/><path d="M774 97.87L775.9 101.1L772.1 101.1Z" fill="none" stroke="#5050ff" stroke-width="0.75"/><path d="M777.34 94.61L779.24 97.84L775.44 97.84Z" fill="none" stroke="#5050ff" stroke-width="0.75"/><path d="M780.69 91.52L782.59 94.75L778.79 94.75Z" fill="none" stroke="#5050ff" stroke-width="0.75"/><path d="M784.04 88.46L785.94 91.69L782.14 91.69Z" fill="none" stroke="#5050ff" stroke-width="0.75"/><path d="M787.39 85.39L789.29 88.62L785.49 88.62Z" fill="none" stroke="#5050ff" stroke-width="0.75"/><path d="M790.73 82.3L792.63 85.53L788.83 85.53Z" fill="none" stroke="#5050ff" stroke-width="0.75"/><path d="M794.08 79.07L795.98 82.3L792.18 82.3Z" fill="none" stroke="#5050ff" stroke-width="0.75"/><path d="M797.43 75.84L799.33 79.07L795.53 79.07Z" fill="none" stroke="#5050ff" stroke-width="0.75"/><path d="M800.78 72.33L802.68 75.56L798.88 75.56Z" fill="none" stroke="#5050ff" stroke-width="0.75"/><path d="M804.13 68.6L806.03 71.83L802.23 71.83Z" fill="none" stroke="#5050ff" stroke-width="0.75"/><path d="M807.47 64.92L809.37 68.15L805.57 68.15Z" fill="none" stroke="#5050ff" stroke-width="0.75"/><path d="M810.82 61.95L812.72 65.18L808.92 65.18Z" fill="none" stroke="#5050ff" stroke-width="0.75"/><path d="M814.17 58.91L816.07 62.14L812.27 62.14Z" fill="none" stroke="#5050ff" stroke-width="0.75"/><path d="M817.52 53.89L819.42 57.12L815.62 57.12Z" fill="none" stroke="#5050ff" stroke-width="0.75"/><path d="M820.86 50.34L822.76 53.57L818.96 53.57Z" fill="none" stroke="#5050ff" stroke-width="0.75"/><path d="M824.21 47.98L826.11 51.21L822.31 51.21Z" fill="none" stroke="#5050ff" stroke-width="0.75"/></g>
<polyline points="612.94,178.51 616.5,177.86 620.07,177.2 623.63,176.54 627.19,175.88 630.75,175.22 634.32,174.56 637.88,173.89 641.44,173.23 645,172.56 648.57,171.9 652.13,171.23 655.69,170.56 659.26,169.89 662.82,169.22 666.38,168.55 669.94,167.88 673.51,167.21 677.07,166.53 680.63,165.86 684.19,165.18 687.76,164.5 691.32,163.82 694.88,163.14 698.44,162.46 702.01,161.78 705.57,161.1 709.13,160.42 712.7,159.73 716.26,159.05 719.82,158.36 723.38,157.67 726.95,156.98 730.51,156.29 734.07,155.6 737.63,154.91 741.2,154.22 744.76,153.52 748.32,152.83 751.88,152.13 755.45,151.43 759.01,150.74 762.57,150.04 766.13,149.34 769.7,148.64 773.26,147.93 776.82,147.23 780.39,146.53 783.95,145.82 787.51,145.11 791.07,144.41 794.64,143.7 798.2,142.99 801.76,142.28 805.32,141.57 808.89,140.86 812.45,140.14 816.01,139.43 819.57,138.71 823.14,138 826.7,137.28" fill="none" stroke="#10dd10" stroke-width="3.0"/>
<polyline points="600.5,170.44 604.27,169.75 608.04,169.05 611.81,168.36 615.58,167.66 619.35,166.97 623.12,166.27 626.89,165.57 630.66,164.87 634.43,164.17 638.2,163.47 641.97,162.77 645.74,162.06 649.51,161.36 653.28,160.65 657.05,159.95 660.82,159.24 664.59,158.53 668.36,157.82 672.13,157.1 675.9,156.39 679.67,155.68 683.44,154.96 687.21,154.24 690.98,153.53 694.75,152.81 698.52,152.09 702.29,151.37 706.06,150.64 709.83,149.92 713.6,149.19 717.37,148.47 721.14,147.74 724.91,147.01 728.68,146.28 732.45,145.55 736.22,144.82 739.99,144.09 743.76,143.35 747.53,142.62 751.3,141.88 755.07,141.15 758.84,140.41 762.61,139.67 766.38,138.93 770.15,138.18 773.92,137.44 777.69,136.7 781.46,135.95 785.23,135.2 789,134.46 792.77,133.71 796.54,132.96 800.31,132.21 804.08,131.45 807.85,130.7 811.62,129.95 815.39,129.19 819.16,128.43 822.93,127.67 826.7,126.91" fill="none" stroke="#10e8f8" stroke-width="3"/>
<path d="M599.8 15H827.4" stroke="#777" stroke-width="1.4"/>
<path d="M826.7 15V180.8" stroke="#777" stroke-width="1.4"/>
<path d="M600.5 15V181.5" stroke="#2a2a2a" stroke-width="1.4"/>
<path d="M599.8 180.8H827.4" stroke="#3a3a3a" stroke-width="1.4"/>
<path d="M600.5 180.8V184.3M645.74 180.8V184.3M690.98 180.8V184.3M736.22 180.8V184.3M781.46 180.8V184.3M826.7 180.8V184.3M623.12 180.8V182.9M668.36 180.8V182.9M713.6 180.8V182.9M758.84 180.8V182.9M804.08 180.8V182.9" stroke="#3a3a3a" stroke-width="1.0" fill="none"/>
<path d="M600.5 180.8H597M600.5 160.07H597M600.5 139.35H597M600.5 118.62H597M600.5 97.9H597M600.5 77.18H597M600.5 56.45H597M600.5 35.72H597M600.5 15H597M600.5 170.44H598.4M600.5 149.71H598.4M600.5 128.99H598.4M600.5 108.26H598.4M600.5 87.54H598.4M600.5 66.81H598.4M600.5 46.09H598.4M600.5 25.36H598.4" stroke="#3a3a3a" stroke-width="1.0" fill="none"/>
<text x="600.5" y="192" text-anchor="middle" fill="#000" stroke="#000" stroke-width="0.12" style="font-family:'Liberation Sans', sans-serif;font-size:6.3px;white-space:pre;">1.00</text>
<text x="645.74" y="192" text-anchor="middle" fill="#000" stroke="#000" stroke-width="0.12" style="font-family:'Liberation Sans', sans-serif;font-size:6.3px;white-space:pre;">1.02</text>
<text x="690.98" y="192" text-anchor="middle" fill="#000" stroke="#000" stroke-width="0.12" style="font-family:'Liberation Sans', sans-serif;font-size:6.3px;white-space:pre;">1.04</text>
<text x="736.22" y="192" text-anchor="middle" fill="#000" stroke="#000" stroke-width="0.12" style="font-family:'Liberation Sans', sans-serif;font-size:6.3px;white-space:pre;">1.06</text>
<text x="781.46" y="192" text-anchor="middle" fill="#000" stroke="#000" stroke-width="0.12" style="font-family:'Liberation Sans', sans-serif;font-size:6.3px;white-space:pre;">1.08</text>
<text x="826.7" y="192" text-anchor="middle" fill="#000" stroke="#000" stroke-width="0.12" style="font-family:'Liberation Sans', sans-serif;font-size:6.3px;white-space:pre;">1.10</text>
<text x="594.4" y="182.2" text-anchor="end" fill="#000" stroke="#000" stroke-width="0.12" style="font-family:'Liberation Sans', sans-serif;font-size:6.3px;white-space:pre;">1.0</text>
<text x="594.4" y="161.47" text-anchor="end" fill="#000" stroke="#000" stroke-width="0.12" style="font-family:'Liberation Sans', sans-serif;font-size:6.3px;white-space:pre;">1.1</text>
<text x="594.4" y="140.75" text-anchor="end" fill="#000" stroke="#000" stroke-width="0.12" style="font-family:'Liberation Sans', sans-serif;font-size:6.3px;white-space:pre;">1.2</text>
<text x="594.4" y="120.03" text-anchor="end" fill="#000" stroke="#000" stroke-width="0.12" style="font-family:'Liberation Sans', sans-serif;font-size:6.3px;white-space:pre;">1.3</text>
<text x="594.4" y="99.3" text-anchor="end" fill="#000" stroke="#000" stroke-width="0.12" style="font-family:'Liberation Sans', sans-serif;font-size:6.3px;white-space:pre;">1.4</text>
<text x="594.4" y="78.58" text-anchor="end" fill="#000" stroke="#000" stroke-width="0.12" style="font-family:'Liberation Sans', sans-serif;font-size:6.3px;white-space:pre;">1.5</text>
<text x="594.4" y="57.85" text-anchor="end" fill="#000" stroke="#000" stroke-width="0.12" style="font-family:'Liberation Sans', sans-serif;font-size:6.3px;white-space:pre;">1.6</text>
<text x="594.4" y="37.12" text-anchor="end" fill="#000" stroke="#000" stroke-width="0.12" style="font-family:'Liberation Sans', sans-serif;font-size:6.3px;white-space:pre;">1.7</text>
<text x="594.4" y="16.4" text-anchor="end" fill="#000" stroke="#000" stroke-width="0.12" style="font-family:'Liberation Sans', sans-serif;font-size:6.3px;white-space:pre;">1.8</text>
<text transform="translate(579 112.2) rotate(-90)" fill="#000" stroke="#000" stroke-width="0.1" style="font-family:'Liberation Sans', sans-serif;font-size:8.4px;font-weight:bold">R/R<tspan dx="-0.8" dy="2.6" style="font-size:5px">o</tspan></text>
<text x="0" y="0" transform="translate(706.6 206) scale(1 1.18)" fill="#000" stroke="#000" stroke-width="0.2" style="font-family:'Liberation Sans', sans-serif;font-size:8px">L/L<tspan dy="2.4" style="font-size:5px">o</tspan></text>
<circle cx="617.6" cy="26.1" r="1.65" fill="none" stroke="#444444" stroke-width="0.75"/>
<text x="0" y="0" transform="translate(630 28.7) scale(1 1.1)" text-anchor="start" fill="#000" stroke="#000" stroke-width="0.12" style="font-family:'Liberation Sans', sans-serif;font-size:8px;white-space:pre;">150°C 30min</text>
<rect x="616" y="36.5" width="3.2" height="3.2" fill="none" stroke="#ff5050" stroke-width="0.75"/>
<text x="0" y="0" transform="translate(630 40.7) scale(1 1.1)" text-anchor="start" fill="#000" stroke="#000" stroke-width="0.12" style="font-family:'Liberation Sans', sans-serif;font-size:8px;white-space:pre;">+180°C 9hr</text>
<path d="M617.6 48L619.5 51.23L615.7 51.23Z" fill="none" stroke="#5050ff" stroke-width="0.75"/>
<text x="0" y="0" transform="translate(630 52.5) scale(1 1.1)" text-anchor="start" fill="#000" stroke="#000" stroke-width="0.12" style="font-family:'Liberation Sans', sans-serif;font-size:8px;white-space:pre;">+230°C  9hr</text>
<circle cx="617.6" cy="62.1" r="1" fill="#10dd10"/>
<text x="0" y="0" transform="translate(630 64.7) scale(1 1.1)" text-anchor="start" fill="#000" stroke="#000" stroke-width="0.12" style="font-family:'Liberation Sans', sans-serif;font-size:8px;white-space:pre;">R/R<tspan dy="2.3" font-size="5">o</tspan><tspan dy="-2.3">=(L/L</tspan><tspan dy="2.3" font-size="5">o</tspan><tspan dy="-2.3">)</tspan><tspan dy="-3.8" font-size="4.6">2</tspan></text>
<circle cx="617.6" cy="76.1" r="1" fill="#10e8f8"/>
<text x="0" y="0" transform="translate(630 78.7) scale(1 1.1)" text-anchor="start" fill="#000" stroke="#000" stroke-width="0.12" style="font-family:'Liberation Sans', sans-serif;font-size:8px;white-space:pre;">(L/L<tspan dy="2.3" font-size="5">o</tspan><tspan dy="-2.3">)</tspan><tspan dy="-3.8" font-size="4.6">2</tspan><tspan dy="3.8">+0.05</tspan></text>
<path d="M46.3 213H275.6" stroke="#606060" stroke-width="1.4"/>
<path d="M274.9 213V380.1" stroke="#707070" stroke-width="1.4"/>
<path d="M47 213V380.8" stroke="#4a4a4a" stroke-width="1.4"/>
<path d="M46.3 380.1H275.6" stroke="#444" stroke-width="1.4"/>
<path d="M47 380.1V383.6M69.79 380.1V383.6M92.58 380.1V383.6M115.37 380.1V383.6M138.16 380.1V383.6M160.95 380.1V383.6M183.74 380.1V383.6M206.53 380.1V383.6M229.32 380.1V383.6M252.11 380.1V383.6M274.9 380.1V383.6M58.39 380.1V382.2M81.19 380.1V382.2M103.97 380.1V382.2M126.76 380.1V382.2M149.56 380.1V382.2M172.34 380.1V382.2M195.13 380.1V382.2M217.92 380.1V382.2M240.71 380.1V382.2M263.5 380.1V382.2" stroke="#3a3a3a" stroke-width="1.0" fill="none"/>
<path d="M47 380.1H43.5M47 356.23H43.5M47 332.36H43.5M47 308.49H43.5M47 284.61H43.5M47 260.74H43.5M47 236.87H43.5M47 213H43.5M47 368.16H44.9M47 344.29H44.9M47 320.42H44.9M47 296.55H44.9M47 272.68H44.9M47 248.81H44.9M47 224.94H44.9" stroke="#3a3a3a" stroke-width="1.0" fill="none"/>
<text x="47" y="390.9" text-anchor="middle" fill="#000" stroke="#000" stroke-width="0.12" style="font-family:'Liberation Sans', sans-serif;font-size:6.8px;white-space:pre;">0</text>
<text x="69.79" y="390.9" text-anchor="middle" fill="#000" stroke="#000" stroke-width="0.12" style="font-family:'Liberation Sans', sans-serif;font-size:6.8px;white-space:pre;">1</text>
<text x="92.58" y="390.9" text-anchor="middle" fill="#000" stroke="#000" stroke-width="0.12" style="font-family:'Liberation Sans', sans-serif;font-size:6.8px;white-space:pre;">2</text>
<text x="115.37" y="390.9" text-anchor="middle" fill="#000" stroke="#000" stroke-width="0.12" style="font-family:'Liberation Sans', sans-serif;font-size:6.8px;white-space:pre;">3</text>
<text x="138.16" y="390.9" text-anchor="middle" fill="#000" stroke="#000" stroke-width="0.12" style="font-family:'Liberation Sans', sans-serif;font-size:6.8px;white-space:pre;">4</text>
<text x="160.95" y="390.9" text-anchor="middle" fill="#000" stroke="#000" stroke-width="0.12" style="font-family:'Liberation Sans', sans-serif;font-size:6.8px;white-space:pre;">5</text>
<text x="183.74" y="390.9" text-anchor="middle" fill="#000" stroke="#000" stroke-width="0.12" style="font-family:'Liberation Sans', sans-serif;font-size:6.8px;white-space:pre;">6</text>
<text x="206.53" y="390.9" text-anchor="middle" fill="#000" stroke="#000" stroke-width="0.12" style="font-family:'Liberation Sans', sans-serif;font-size:6.8px;white-space:pre;">7</text>
<text x="229.32" y="390.9" text-anchor="middle" fill="#000" stroke="#000" stroke-width="0.12" style="font-family:'Liberation Sans', sans-serif;font-size:6.8px;white-space:pre;">8</text>
<text x="252.11" y="390.9" text-anchor="middle" fill="#000" stroke="#000" stroke-width="0.12" style="font-family:'Liberation Sans', sans-serif;font-size:6.8px;white-space:pre;">9</text>
<text x="274.9" y="390.9" text-anchor="middle" fill="#000" stroke="#000" stroke-width="0.12" style="font-family:'Liberation Sans', sans-serif;font-size:6.8px;white-space:pre;">10</text>
<text x="42" y="382.5" text-anchor="end" fill="#000" stroke="#000" stroke-width="0.12" style="font-family:'Liberation Sans', sans-serif;font-size:6.8px;white-space:pre;">0</text>
<text x="42" y="358.63" text-anchor="end" fill="#000" stroke="#000" stroke-width="0.12" style="font-family:'Liberation Sans', sans-serif;font-size:6.8px;white-space:pre;">1</text>
<text x="42" y="334.76" text-anchor="end" fill="#000" stroke="#000" stroke-width="0.12" style="font-family:'Liberation Sans', sans-serif;font-size:6.8px;white-space:pre;">2</text>
<text x="42" y="310.89" text-anchor="end" fill="#000" stroke="#000" stroke-width="0.12" style="font-family:'Liberation Sans', sans-serif;font-size:6.8px;white-space:pre;">3</text>
<text x="42" y="287.01" text-anchor="end" fill="#000" stroke="#000" stroke-width="0.12" style="font-family:'Liberation Sans', sans-serif;font-size:6.8px;white-space:pre;">4</text>
<text x="42" y="263.14" text-anchor="end" fill="#000" stroke="#000" stroke-width="0.12" style="font-family:'Liberation Sans', sans-serif;font-size:6.8px;white-space:pre;">5</text>
<text x="42" y="239.27" text-anchor="end" fill="#000" stroke="#000" stroke-width="0.12" style="font-family:'Liberation Sans', sans-serif;font-size:6.8px;white-space:pre;">6</text>
<text x="42" y="215.4" text-anchor="end" fill="#000" stroke="#000" stroke-width="0.12" style="font-family:'Liberation Sans', sans-serif;font-size:6.8px;white-space:pre;">7</text>
<text x="158.5" y="406.2" text-anchor="middle" fill="#000" style="font-family:'Liberation Sans', sans-serif;font-size:8.5px;white-space:pre;font-weight:bold;">Annealing times(hours)</text>
<text x="30.8" y="304.9" text-anchor="middle" fill="#000" style="font-family:'Liberation Sans', sans-serif;font-size:8.5px;white-space:pre;font-weight:bold;" transform="rotate(-90 30.8 304.9)">Failure strain (%)</text>
<path d="M58.5 230.9V215.39M56.5 230.9H60.5M56.5 215.39H60.5" stroke="#666" stroke-width="0.8" fill="none"/>
<rect x="56.29" y="220.93" width="4.2" height="4.2" fill="#111"/>
<polyline points="115.37,249.76 183.74,263.13 252.11,269.34" fill="none" stroke="#ff5050" stroke-width="0.8"/>
<polyline points="115.37,288.67 183.74,263.13 252.11,273.16" fill="none" stroke="#4848ff" stroke-width="0.8"/>
<path d="M115.5 265.52V234.01M113.5 265.52H117.5M113.5 234.01H117.5" stroke="#ff5050" stroke-width="0.8" fill="none"/>
<path d="M183.5 288.43V238.06M181.5 288.43H185.5M181.5 238.06H185.5" stroke="#ff5050" stroke-width="0.8" fill="none"/>
<path d="M252.5 281.75V257.16M250.5 281.75H254.5M250.5 257.16H254.5" stroke="#ff5050" stroke-width="0.8" fill="none"/>
<path d="M115.5 302.28V275.3M113.5 302.28H117.5M113.5 275.3H117.5" stroke="#4848ff" stroke-width="0.8" fill="none"/>
<path d="M252.5 276.26V270.29M250.5 276.26H254.5M250.5 270.29H254.5" stroke="#4848ff" stroke-width="0.8" fill="none"/>
<circle cx="115.37" cy="249.76" r="2.2" fill="#f00"/>
<circle cx="183.74" cy="263.13" r="2.2" fill="#f00"/>
<circle cx="252.11" cy="269.34" r="2.2" fill="#f00"/>
<path d="M115.37 286.14L117.9 290.51L112.84 290.51Z" fill="#00f"/>
<path d="M183.74 260.6L186.27 264.97L181.21 264.97Z" fill="#00f"/>
<path d="M252.11 270.63L254.64 275L249.58 275Z" fill="#00f"/>
<rect x="213.2" y="332.2" width="50.1" height="36.1" fill="#fff" stroke="#777" stroke-width="0.9"/>
<path d="M217.6 340.5H235.8" stroke="#666" stroke-width="0.8"/>
<circle cx="227.2" cy="340.1" r="2.0" fill="#111"/>
<text x="0" y="0" transform="translate(238.7 343.1) scale(1 1.14)" text-anchor="start" fill="#000" stroke="#000" stroke-width="0.12" style="font-family:'Liberation Sans', sans-serif;font-size:8.0px;white-space:pre;">150°C</text>
<path d="M217.6 351.5H235.8" stroke="#ff5050" stroke-width="0.8"/>
<circle cx="227.2" cy="351.8" r="2.0" fill="#f00"/>
<text x="0" y="0" transform="translate(238.7 354.8) scale(1 1.14)" text-anchor="start" fill="#000" stroke="#000" stroke-width="0.12" style="font-family:'Liberation Sans', sans-serif;font-size:8.0px;white-space:pre;">180°C</text>
<path d="M217.6 363.5H235.8" stroke="#4848ff" stroke-width="0.8"/>
<path d="M227.2 360.47L229.73 364.84L224.67 364.84Z" fill="#00f"/>
<text x="0" y="0" transform="translate(238.7 366) scale(1 1.14)" text-anchor="start" fill="#000" stroke="#000" stroke-width="0.12" style="font-family:'Liberation Sans', sans-serif;font-size:8.0px;white-space:pre;">230°C</text>
<path d="M323.1 216.9H555.6" stroke="#333" stroke-width="1.4"/>
<path d="M554.9 216.9V386.2" stroke="#707070" stroke-width="1.4"/>
<path d="M323.8 216.9V386.9" stroke="#4a4a4a" stroke-width="1.4"/>
<path d="M323.1 386.2H555.6" stroke="#505050" stroke-width="1.4"/>
<path d="M323.8 386.2V389.7M346.91 386.2V389.7M370.02 386.2V389.7M393.13 386.2V389.7M416.24 386.2V389.7M439.35 386.2V389.7M462.46 386.2V389.7M485.57 386.2V389.7M508.68 386.2V389.7M531.79 386.2V389.7M554.9 386.2V389.7M335.36 386.2V388.3M358.47 386.2V388.3M381.57 386.2V388.3M404.69 386.2V388.3M427.8 386.2V388.3M450.9 386.2V388.3M474.01 386.2V388.3M497.12 386.2V388.3M520.24 386.2V388.3M543.35 386.2V388.3" stroke="#3a3a3a" stroke-width="1.0" fill="none"/>
<path d="M323.8 386.2H320.3M323.8 355.42H320.3M323.8 324.64H320.3M323.8 293.85H320.3M323.8 263.07H320.3M323.8 232.29H320.3M323.8 370.81H321.7M323.8 340.03H321.7M323.8 309.25H321.7M323.8 278.46H321.7M323.8 247.68H321.7M323.8 216.9H321.7" stroke="#3a3a3a" stroke-width="1.0" fill="none"/>
<text x="323.8" y="397.2" text-anchor="middle" fill="#000" stroke="#000" stroke-width="0.12" style="font-family:'Liberation Sans', sans-serif;font-size:6.8px;white-space:pre;">0</text>
<text x="346.91" y="397.2" text-anchor="middle" fill="#000" stroke="#000" stroke-width="0.12" style="font-family:'Liberation Sans', sans-serif;font-size:6.8px;white-space:pre;">1</text>
<text x="370.02" y="397.2" text-anchor="middle" fill="#000" stroke="#000" stroke-width="0.12" style="font-family:'Liberation Sans', sans-serif;font-size:6.8px;white-space:pre;">2</text>
<text x="393.13" y="397.2" text-anchor="middle" fill="#000" stroke="#000" stroke-width="0.12" style="font-family:'Liberation Sans', sans-serif;font-size:6.8px;white-space:pre;">3</text>
<text x="416.24" y="397.2" text-anchor="middle" fill="#000" stroke="#000" stroke-width="0.12" style="font-family:'Liberation Sans', sans-serif;font-size:6.8px;white-space:pre;">4</text>
<text x="439.35" y="397.2" text-anchor="middle" fill="#000" stroke="#000" stroke-width="0.12" style="font-family:'Liberation Sans', sans-serif;font-size:6.8px;white-space:pre;">5</text>
<text x="462.46" y="397.2" text-anchor="middle" fill="#000" stroke="#000" stroke-width="0.12" style="font-family:'Liberation Sans', sans-serif;font-size:6.8px;white-space:pre;">6</text>
<text x="485.57" y="397.2" text-anchor="middle" fill="#000" stroke="#000" stroke-width="0.12" style="font-family:'Liberation Sans', sans-serif;font-size:6.8px;white-space:pre;">7</text>
<text x="508.68" y="397.2" text-anchor="middle" fill="#000" stroke="#000" stroke-width="0.12" style="font-family:'Liberation Sans', sans-serif;font-size:6.8px;white-space:pre;">8</text>
<text x="531.79" y="397.2" text-anchor="middle" fill="#000" stroke="#000" stroke-width="0.12" style="font-family:'Liberation Sans', sans-serif;font-size:6.8px;white-space:pre;">9</text>
<text x="554.9" y="397.2" text-anchor="middle" fill="#000" stroke="#000" stroke-width="0.12" style="font-family:'Liberation Sans', sans-serif;font-size:6.8px;white-space:pre;">10</text>
<text x="318.3" y="388.5" text-anchor="end" fill="#000" stroke="#000" stroke-width="0.12" style="font-family:'Liberation Sans', sans-serif;font-size:6.5px;white-space:pre;">0</text>
<text x="318.3" y="357.72" text-anchor="end" fill="#000" stroke="#000" stroke-width="0.12" style="font-family:'Liberation Sans', sans-serif;font-size:6.5px;white-space:pre;">20</text>
<text x="318.3" y="326.94" text-anchor="end" fill="#000" stroke="#000" stroke-width="0.12" style="font-family:'Liberation Sans', sans-serif;font-size:6.5px;white-space:pre;">40</text>
<text x="318.3" y="296.15" text-anchor="end" fill="#000" stroke="#000" stroke-width="0.12" style="font-family:'Liberation Sans', sans-serif;font-size:6.5px;white-space:pre;">60</text>
<text x="318.3" y="265.37" text-anchor="end" fill="#000" stroke="#000" stroke-width="0.12" style="font-family:'Liberation Sans', sans-serif;font-size:6.5px;white-space:pre;">80</text>
<text x="318.3" y="234.59" text-anchor="end" fill="#000" stroke="#000" stroke-width="0.12" style="font-family:'Liberation Sans', sans-serif;font-size:6.5px;white-space:pre;">100</text>
<text x="439.1" y="411.3" text-anchor="middle" fill="#000" style="font-family:'Liberation Sans', sans-serif;font-size:7.8px;white-space:pre;font-weight:bold;">Annealing times(hours)</text>
<text x="300" y="307.2" text-anchor="middle" fill="#000" style="font-family:'Liberation Sans', sans-serif;font-size:7.9px;white-space:pre;font-weight:bold;" transform="rotate(-90 300 307.2)">Pore size(nm)</text>
<path d="M335.5 352.65V278.77M333.5 352.65H337.5M333.5 278.77H337.5" stroke="#666" stroke-width="0.8" fill="none"/>
<rect x="333.36" y="314.02" width="4" height="4" fill="#111"/>
<polyline points="393.13,314.32 462.46,315.4 531.79,304.32" fill="none" stroke="#ff5050" stroke-width="0.8"/>
<polyline points="393.13,302.47 462.46,288.62 531.79,282.47" fill="none" stroke="#4848ff" stroke-width="0.8"/>
<path d="M393.5 356.8V272.77M391.5 356.8H395.5M391.5 272.77H395.5" stroke="#ff5050" stroke-width="0.8" fill="none"/>
<path d="M462.5 343.41V287.39M460.5 343.41H464.5M460.5 287.39H464.5" stroke="#ff5050" stroke-width="0.8" fill="none"/>
<path d="M531.5 345.41V262.3M529.5 345.41H533.5M529.5 262.3H533.5" stroke="#ff5050" stroke-width="0.8" fill="none"/>
<path d="M393.5 346.49V257.53M391.5 346.49H395.5M391.5 257.53H395.5" stroke="#4848ff" stroke-width="0.8" fill="none"/>
<path d="M462.5 347.57V229.06M460.5 347.57H464.5M460.5 229.06H464.5" stroke="#4848ff" stroke-width="0.8" fill="none"/>
<path d="M531.5 332.33V232.29M529.5 332.33H533.5M529.5 232.29H533.5" stroke="#4848ff" stroke-width="0.8" fill="none"/>
<circle cx="393.13" cy="314.32" r="2.2" fill="#f00"/>
<circle cx="462.46" cy="315.4" r="2.2" fill="#f00"/>
<circle cx="531.79" cy="304.32" r="2.2" fill="#f00"/>
<path d="M393.13 299.94L395.66 304.31L390.6 304.31Z" fill="#00f"/>
<path d="M462.46 286.09L464.99 290.46L459.93 290.46Z" fill="#00f"/>
<path d="M531.79 279.94L534.32 284.31L529.26 284.31Z" fill="#00f"/>
<rect x="327.2" y="219.3" width="51.3" height="37.3" fill="#fff" stroke="#777" stroke-width="0.9"/>
<path d="M331.8 227.5H350.3" stroke="#666" stroke-width="0.8"/>
<rect x="339.1" y="225.8" width="3.8" height="3.8" fill="#111"/>
<text x="0" y="0" transform="translate(353.3 230.9) scale(1 1.18)" text-anchor="start" fill="#000" stroke="#000" stroke-width="0.12" style="font-family:'Liberation Sans', sans-serif;font-size:8.0px;white-space:pre;">150°C</text>
<path d="M331.8 239.5H350.3" stroke="#ff5050" stroke-width="0.8"/>
<circle cx="341" cy="239.6" r="2.1" fill="#f00"/>
<text x="0" y="0" transform="translate(353.3 242.8) scale(1 1.18)" text-anchor="start" fill="#000" stroke="#000" stroke-width="0.12" style="font-family:'Liberation Sans', sans-serif;font-size:8.0px;white-space:pre;">180°C</text>
<path d="M331.8 251.5H350.3" stroke="#4848ff" stroke-width="0.8"/>
<path d="M341 248.57L343.53 252.94L338.47 252.94Z" fill="#00f"/>
<text x="0" y="0" transform="translate(353.3 254.3) scale(1 1.18)" text-anchor="start" fill="#000" stroke="#000" stroke-width="0.12" style="font-family:'Liberation Sans', sans-serif;font-size:8.0px;white-space:pre;">230°C</text>
<path d="M605.5 217.8H835.6" stroke="#707070" stroke-width="1.4"/>
<path d="M834.9 217.8V385.2" stroke="#505050" stroke-width="1.4"/>
<path d="M606.2 217.8V385.9" stroke="#444" stroke-width="1.4"/>
<path d="M605.5 385.2H835.6" stroke="#2a2a2a" stroke-width="1.4"/>
<path d="M606.2 385.2V388.7M634.79 385.2V388.7M663.38 385.2V388.7M691.96 385.2V388.7M720.55 385.2V388.7M749.14 385.2V388.7M777.73 385.2V388.7M806.31 385.2V388.7M834.9 385.2V388.7M620.49 385.2V387.3M649.08 385.2V387.3M677.67 385.2V387.3M706.26 385.2V387.3M734.84 385.2V387.3M763.43 385.2V387.3M792.02 385.2V387.3M820.61 385.2V387.3" stroke="#3a3a3a" stroke-width="1.0" fill="none"/>
<path d="M606.2 385.2H602.7M606.2 361.29H602.7M606.2 337.37H602.7M606.2 313.46H602.7M606.2 289.54H602.7M606.2 265.63H602.7M606.2 241.71H602.7M606.2 217.8H602.7M606.2 373.24H604.1M606.2 349.33H604.1M606.2 325.41H604.1M606.2 301.5H604.1M606.2 277.59H604.1M606.2 253.67H604.1M606.2 229.76H604.1" stroke="#3a3a3a" stroke-width="1.0" fill="none"/>
<text x="606.2" y="396.8" text-anchor="middle" fill="#000" stroke="#000" stroke-width="0.12" style="font-family:'Liberation Sans', sans-serif;font-size:6.6px;white-space:pre;">80</text>
<text x="634.79" y="396.8" text-anchor="middle" fill="#000" stroke="#000" stroke-width="0.12" style="font-family:'Liberation Sans', sans-serif;font-size:6.6px;white-space:pre;">100</text>
<text x="663.38" y="396.8" text-anchor="middle" fill="#000" stroke="#000" stroke-width="0.12" style="font-family:'Liberation Sans', sans-serif;font-size:6.6px;white-space:pre;">120</text>
<text x="691.96" y="396.8" text-anchor="middle" fill="#000" stroke="#000" stroke-width="0.12" style="font-family:'Liberation Sans', sans-serif;font-size:6.6px;white-space:pre;">140</text>
<text x="720.55" y="396.8" text-anchor="middle" fill="#000" stroke="#000" stroke-width="0.12" style="font-family:'Liberation Sans', sans-serif;font-size:6.6px;white-space:pre;">160</text>
<text x="749.14" y="396.8" text-anchor="middle" fill="#000" stroke="#000" stroke-width="0.12" style="font-family:'Liberation Sans', sans-serif;font-size:6.6px;white-space:pre;">180</text>
<text x="777.73" y="396.8" text-anchor="middle" fill="#000" stroke="#000" stroke-width="0.12" style="font-family:'Liberation Sans', sans-serif;font-size:6.6px;white-space:pre;">200</text>
<text x="806.31" y="396.8" text-anchor="middle" fill="#000" stroke="#000" stroke-width="0.12" style="font-family:'Liberation Sans', sans-serif;font-size:6.6px;white-space:pre;">220</text>
<text x="834.9" y="396.8" text-anchor="middle" fill="#000" stroke="#000" stroke-width="0.12" style="font-family:'Liberation Sans', sans-serif;font-size:6.6px;white-space:pre;">240</text>
<text x="600.5" y="387.5" text-anchor="end" fill="#000" stroke="#000" stroke-width="0.12" style="font-family:'Liberation Sans', sans-serif;font-size:6.6px;white-space:pre;">0</text>
<text x="600.5" y="363.59" text-anchor="end" fill="#000" stroke="#000" stroke-width="0.12" style="font-family:'Liberation Sans', sans-serif;font-size:6.6px;white-space:pre;">10</text>
<text x="600.5" y="339.67" text-anchor="end" fill="#000" stroke="#000" stroke-width="0.12" style="font-family:'Liberation Sans', sans-serif;font-size:6.6px;white-space:pre;">20</text>
<text x="600.5" y="315.76" text-anchor="end" fill="#000" stroke="#000" stroke-width="0.12" style="font-family:'Liberation Sans', sans-serif;font-size:6.6px;white-space:pre;">30</text>
<text x="600.5" y="291.84" text-anchor="end" fill="#000" stroke="#000" stroke-width="0.12" style="font-family:'Liberation Sans', sans-serif;font-size:6.6px;white-space:pre;">40</text>
<text x="600.5" y="267.93" text-anchor="end" fill="#000" stroke="#000" stroke-width="0.12" style="font-family:'Liberation Sans', sans-serif;font-size:6.6px;white-space:pre;">50</text>
<text x="600.5" y="244.01" text-anchor="end" fill="#000" stroke="#000" stroke-width="0.12" style="font-family:'Liberation Sans', sans-serif;font-size:6.6px;white-space:pre;">60</text>
<text x="600.5" y="220.1" text-anchor="end" fill="#000" stroke="#000" stroke-width="0.12" style="font-family:'Liberation Sans', sans-serif;font-size:6.6px;white-space:pre;">70</text>
<text x="720.3" y="411.3" text-anchor="middle" fill="#000" style="font-family:'Liberation Sans', sans-serif;font-size:7.95px;white-space:pre;font-weight:bold;">Temperature (°C)</text>
<text transform="translate(584.0 308.2) rotate(-90)" text-anchor="middle" fill="#000" style="font-family:'Liberation Sans', sans-serif;font-size:8px;font-weight:bold">Resistivity (10<tspan dy="-3" style="font-size:5px">-6</tspan><tspan dy="3">Ωm)</tspan></text>
<polyline points="634.79,238.37 706.26,329.72 749.14,340.24 777.73,351.24 820.61,355.79" fill="none" stroke="#777" stroke-width="0.8"/>
<path d="M634.5 246.5V229.76M632.5 246.5H636.5M632.5 229.76H636.5" stroke="#555" stroke-width="0.8" fill="none"/>
<rect x="632.59" y="236.17" width="4.4" height="4.4" fill="#111"/>
<path d="M706.5 333.55V325.65M704.5 333.55H708.5M704.5 325.65H708.5" stroke="#555" stroke-width="0.8" fill="none"/>
<rect x="704.06" y="327.52" width="4.4" height="4.4" fill="#111"/>
<path d="M749.5 347.18V333.31M747.5 347.18H751.5M747.5 333.31H751.5" stroke="#555" stroke-width="0.8" fill="none"/>
<rect x="746.94" y="338.04" width="4.4" height="4.4" fill="#111"/>
<path d="M777.5 356.74V344.78M775.5 356.74H779.5M775.5 344.78H779.5" stroke="#555" stroke-width="0.8" fill="none"/>
<rect x="775.52" y="349.04" width="4.4" height="4.4" fill="#111"/>
<path d="M820.5 361.76V349.81M818.5 361.76H822.5M818.5 349.81H822.5" stroke="#555" stroke-width="0.8" fill="none"/>
<rect x="818.41" y="353.59" width="4.4" height="4.4" fill="#111"/>
<text x="0" y="0" transform="translate(1.32 17.7) scale(1.074 1)" fill="#111" style="font-family:'Liberation Serif', serif;font-size:24px">(a)</text>
<text x="0" y="0" transform="translate(280.5 21.94) scale(1.0 1)" fill="#111" style="font-family:'Liberation Serif', serif;font-size:24.2px">(b)</text>
<text x="0" y="0" transform="translate(552.6 21.94) scale(1.055 1)" fill="#111" style="font-family:'Liberation Serif', serif;font-size:24.2px">(c)</text>
<text x="0" y="0" transform="translate(1.86 218.6) scale(1.02 1)" fill="#111" style="font-family:'Liberation Serif', serif;font-size:24.3px">(d)</text>
<text x="0" y="0" transform="translate(280.46 218.76) scale(1.05 1)" fill="#111" style="font-family:'Liberation Serif', serif;font-size:23.8px">(e)</text>
<text x="0" y="0" transform="translate(560.5 218.6) scale(1.0 1)" fill="#111" style="font-family:'Liberation Serif', serif;font-size:24.3px">(f)</text></svg></body></html>
